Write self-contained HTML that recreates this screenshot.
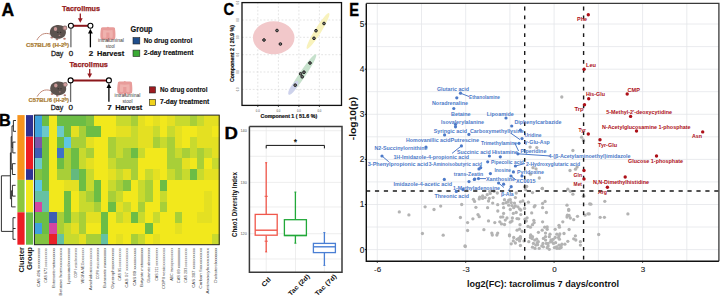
<!DOCTYPE html><html><head><meta charset="utf-8"><style>html,body{margin:0;padding:0;background:#fff;width:720px;height:298px;overflow:hidden}svg{display:block}text{font-family:"Liberation Sans",sans-serif}</style></head><body>
<svg width="720" height="298" viewBox="0 0 720 298">
<rect width="720" height="298" fill="#fff"/>
<text x="1.5" y="15.8" font-size="17.5" fill="#000" font-weight="bold" text-anchor="start" stroke="#000" stroke-width="0.35">A</text>
<g>
<text x="81" y="11.4" font-size="8" fill="#951b20" font-weight="bold" text-anchor="middle" textLength="38" lengthAdjust="spacingAndGlyphs" stroke="#951b20" stroke-width="0.25">Tacrolimus</text>
<path d="M80.3 13.5 V19.5" stroke="#951b20" stroke-width="1.3"/>
<path d="M77.9 18.3 L80.3 22.8 L82.7 18.3 Z" fill="#951b20"/>
<path d="M70.9 25.8 H90.4" stroke="#8b171b" stroke-width="2"/>
<path d="M70.9 28.4 V47.3" stroke="#6a6a6a" stroke-width="1.3"/>
<path d="M90.4 33 V47.3" stroke="#000" stroke-width="1.3"/>
<path d="M88 33.6 L90.4 28.8 L92.8 33.6 Z" fill="#000"/>
<circle cx="70.9" cy="25.8" r="2.5" fill="#fff" stroke="#000" stroke-width="1.1"/>
<circle cx="90.4" cy="25.8" r="2.5" fill="#fff" stroke="#000" stroke-width="1.1"/>
</g>
<g transform="translate(57.9,31.7)">
<path d="M-7.4 2.4 C-10 1.6 -13 1.4 -15.5 2.6 C-17.8 3.8 -19.8 6 -21 8.4" stroke="#c08878" stroke-width="1" fill="none"/>
<ellipse cx="-6.1" cy="5.9" rx="1.4" ry="1" fill="#b77f78"/><ellipse cx="-0.9" cy="7.5" rx="1.3" ry="1" fill="#b77f78"/><ellipse cx="6.6" cy="7.1" rx="1.3" ry="1" fill="#b77f78"/>
<path d="M-8 0.5 C-8 -4.5 -4 -6.8 0.5 -6.8 C5 -6.8 8 -4 8 0.5 C8 4.8 4.5 7 0 7 C-4.5 7 -8 4.8 -8 0.5 Z" fill="#5c524e"/>
<circle cx="7" cy="-3.7" r="2.4" fill="#8e7470"/>
<circle cx="7.1" cy="-3.6" r="1.5" fill="#d6a0a0"/>
<ellipse cx="-2.4" cy="-2.8" rx="1.7" ry="2" fill="#c99896"/>
<circle cx="0" cy="0.5" r="0.5" fill="#1a1414"/><circle cx="2.8" cy="0.5" r="0.5" fill="#1a1414"/>
<ellipse cx="1.6" cy="3.6" rx="0.9" ry="0.6" fill="#b88888"/>
</g>
<text x="47.5" y="47.2" font-size="6" fill="#a87a30" font-weight="bold" text-anchor="middle" textLength="43" lengthAdjust="spacingAndGlyphs" stroke="#a87a30" stroke-width="0.2">C57BL/6 (H-2ᵇ)</text>
<text x="57.1" y="55.8" font-size="8" fill="#222" font-weight="normal" text-anchor="middle" textLength="12.4" lengthAdjust="spacingAndGlyphs" stroke="#222" stroke-width="0.3">Day</text>
<text x="71" y="55.8" font-size="8" fill="#222" font-weight="normal" text-anchor="middle" stroke="#222" stroke-width="0.3">0</text>
<text x="91" y="55.8" font-size="8" fill="#111" font-weight="bold" text-anchor="middle" stroke="#111" stroke-width="0.2">2</text>
<text x="110.6" y="55.8" font-size="8" fill="#111" font-weight="bold" text-anchor="middle" textLength="27" lengthAdjust="spacingAndGlyphs" stroke="#111" stroke-width="0.2">Harvest</text>
<g transform="translate(107.9,33.2) scale(1.0)">
<path d="M-6.8 -5.2 C-5 -6.6 -2 -5.4 0 -6.4 C2 -5.4 5 -6.6 7 -5.2 C7.6 -1 7.8 3 7.2 5.6 C5.5 7 3 6.8 1.2 6 L0.6 8.5 L-0.6 8.5 L-1.2 6 C-3 6.8 -5.5 7 -7.2 5.6 C-7.8 3 -7.6 -1 -6.8 -5.2 Z" fill="#e89c9a"/>
<path d="M-4.6 -3.2 C-2 -2.6 2 -2.6 4.6 -3.2 C5 0 5 2.5 4.6 4.6 C3 4.8 2 4.6 1.6 4 L1.6 -0.6 L-1.6 -0.6 L-1.6 4 C-2 4.6 -3 4.8 -4.6 4.6 C-5 2.5 -5 0 -4.6 -3.2 Z" fill="#efb2ae"/>
</g>
<text x="111" y="42" font-size="4.6" fill="#3c3c3c" font-weight="normal" text-anchor="middle" textLength="26" lengthAdjust="spacingAndGlyphs" >intraluminal</text>
<text x="110.3" y="47.7" font-size="4.6" fill="#3c3c3c" font-weight="normal" text-anchor="middle" textLength="9" lengthAdjust="spacingAndGlyphs" >stool</text>
<text x="130.6" y="32.3" font-size="9" fill="#111" font-weight="bold" text-anchor="start" textLength="22" lengthAdjust="spacingAndGlyphs" stroke="#111" stroke-width="0.2">Group</text>
<rect x="133" y="37.6" width="6.8" height="6.4" fill="#1f4e8c" stroke="#222" stroke-width="0.6"/>
<text x="143.7" y="42.9" font-size="6.9" fill="#111" font-weight="bold" text-anchor="start" textLength="48.5" lengthAdjust="spacingAndGlyphs" stroke="#111" stroke-width="0.15">No drug control</text>
<rect x="133" y="50.1" width="6.8" height="6.4" fill="#3aaa35" stroke="#222" stroke-width="0.6"/>
<text x="143.8" y="55.4" font-size="6.9" fill="#111" font-weight="bold" text-anchor="start" textLength="49.7" lengthAdjust="spacingAndGlyphs" stroke="#111" stroke-width="0.15">2-day treatment</text>
<text x="88.7" y="67.1" font-size="8" fill="#951b20" font-weight="bold" text-anchor="middle" textLength="38.5" lengthAdjust="spacingAndGlyphs" stroke="#951b20" stroke-width="0.25">Tacrolimus</text>
<path d="M89.7 68.9 V75" stroke="#951b20" stroke-width="1.3"/>
<path d="M87.3 73.6 L89.7 78.1 L92.1 73.6 Z" fill="#951b20"/>
<path d="M70.6 80.4 H108.9" stroke="#8b171b" stroke-width="2"/>
<path d="M70.6 83 V102" stroke="#6a6a6a" stroke-width="1.3"/>
<path d="M108.9 87.5 V101.8" stroke="#000" stroke-width="1.3"/>
<path d="M106.5 88 L108.9 83.2 L111.3 88 Z" fill="#000"/>
<circle cx="70.6" cy="80.4" r="2.5" fill="#fff" stroke="#000" stroke-width="1.1"/>
<circle cx="108.9" cy="80.4" r="2.5" fill="#fff" stroke="#000" stroke-width="1.1"/>
<g transform="translate(58.2,88.2)">
<path d="M-7.4 2.4 C-10 1.6 -13 1.4 -15.5 2.6 C-17.8 3.8 -19.8 6 -21 8.4" stroke="#c08878" stroke-width="1" fill="none"/>
<ellipse cx="-6.1" cy="5.9" rx="1.4" ry="1" fill="#b77f78"/><ellipse cx="-0.9" cy="7.5" rx="1.3" ry="1" fill="#b77f78"/><ellipse cx="6.6" cy="7.1" rx="1.3" ry="1" fill="#b77f78"/>
<path d="M-8 0.5 C-8 -4.5 -4 -6.8 0.5 -6.8 C5 -6.8 8 -4 8 0.5 C8 4.8 4.5 7 0 7 C-4.5 7 -8 4.8 -8 0.5 Z" fill="#5c524e"/>
<circle cx="7" cy="-3.7" r="2.4" fill="#8e7470"/>
<circle cx="7.1" cy="-3.6" r="1.5" fill="#d6a0a0"/>
<ellipse cx="-2.4" cy="-2.8" rx="1.7" ry="2" fill="#c99896"/>
<circle cx="0" cy="0.5" r="0.5" fill="#1a1414"/><circle cx="2.8" cy="0.5" r="0.5" fill="#1a1414"/>
<ellipse cx="1.6" cy="3.6" rx="0.9" ry="0.6" fill="#b88888"/>
</g>
<text x="48.8" y="102" font-size="6" fill="#a87a30" font-weight="bold" text-anchor="middle" textLength="40.5" lengthAdjust="spacingAndGlyphs" stroke="#a87a30" stroke-width="0.2">C57BL/6 (H-2ᵇ)</text>
<text x="57" y="109.8" font-size="8" fill="#222" font-weight="normal" text-anchor="middle" textLength="12.5" lengthAdjust="spacingAndGlyphs" stroke="#222" stroke-width="0.3">Day</text>
<text x="70.7" y="109.8" font-size="8" fill="#222" font-weight="normal" text-anchor="middle" stroke="#222" stroke-width="0.3">0</text>
<text x="109.5" y="110" font-size="8" fill="#111" font-weight="bold" text-anchor="middle" stroke="#111" stroke-width="0.2">7</text>
<text x="128.7" y="110" font-size="8" fill="#111" font-weight="bold" text-anchor="middle" textLength="27" lengthAdjust="spacingAndGlyphs" stroke="#111" stroke-width="0.2">Harvest</text>
<g transform="translate(124.8,87.5) scale(1.0)">
<path d="M-6.8 -5.2 C-5 -6.6 -2 -5.4 0 -6.4 C2 -5.4 5 -6.6 7 -5.2 C7.6 -1 7.8 3 7.2 5.6 C5.5 7 3 6.8 1.2 6 L0.6 8.5 L-0.6 8.5 L-1.2 6 C-3 6.8 -5.5 7 -7.2 5.6 C-7.8 3 -7.6 -1 -6.8 -5.2 Z" fill="#e89c9a"/>
<path d="M-4.6 -3.2 C-2 -2.6 2 -2.6 4.6 -3.2 C5 0 5 2.5 4.6 4.6 C3 4.8 2 4.6 1.6 4 L1.6 -0.6 L-1.6 -0.6 L-1.6 4 C-2 4.6 -3 4.8 -4.6 4.6 C-5 2.5 -5 0 -4.6 -3.2 Z" fill="#efb2ae"/>
</g>
<text x="127.5" y="96.6" font-size="4.6" fill="#3c3c3c" font-weight="normal" text-anchor="middle" textLength="26" lengthAdjust="spacingAndGlyphs" >intraluminal</text>
<text x="127.5" y="102.5" font-size="4.6" fill="#3c3c3c" font-weight="normal" text-anchor="middle" textLength="10" lengthAdjust="spacingAndGlyphs" >stool</text>
<rect x="149.3" y="86.8" width="6.2" height="6.2" fill="#9e1b20" stroke="#222" stroke-width="0.6"/>
<text x="160" y="92.4" font-size="6.9" fill="#111" font-weight="bold" text-anchor="start" textLength="47.5" lengthAdjust="spacingAndGlyphs" stroke="#111" stroke-width="0.15">No drug control</text>
<rect x="149.3" y="99.3" width="6.2" height="6.2" fill="#f0d21c" stroke="#222" stroke-width="0.6"/>
<text x="160" y="104.1" font-size="6.9" fill="#111" font-weight="bold" text-anchor="start" textLength="49.2" lengthAdjust="spacingAndGlyphs" stroke="#111" stroke-width="0.15">7-day treatment</text>
<text x="-1.0" y="125.8" font-size="16.3" fill="#000" font-weight="bold" text-anchor="start" stroke="#000" stroke-width="0.35">B</text>
<rect x="34.40" y="115.10" width="7.69" height="11.10" fill="#3fa2dc" shape-rendering="crispEdges"/>
<rect x="41.79" y="115.10" width="7.69" height="11.10" fill="#6cbd45" shape-rendering="crispEdges"/>
<rect x="49.18" y="115.10" width="7.69" height="11.10" fill="#f2e81c" shape-rendering="crispEdges"/>
<rect x="56.58" y="115.10" width="7.69" height="11.10" fill="#6cbd45" shape-rendering="crispEdges"/>
<rect x="63.97" y="115.10" width="7.69" height="11.10" fill="#6cbd45" shape-rendering="crispEdges"/>
<rect x="71.36" y="115.10" width="7.69" height="11.10" fill="#6cbd45" shape-rendering="crispEdges"/>
<rect x="78.75" y="115.10" width="7.69" height="11.10" fill="#6cbd45" shape-rendering="crispEdges"/>
<rect x="86.14" y="115.10" width="7.69" height="11.10" fill="#82c341" shape-rendering="crispEdges"/>
<rect x="93.54" y="115.10" width="7.69" height="11.10" fill="#f2e81c" shape-rendering="crispEdges"/>
<rect x="100.93" y="115.10" width="7.69" height="11.10" fill="#f2e81c" shape-rendering="crispEdges"/>
<rect x="108.32" y="115.10" width="7.69" height="11.10" fill="#f2e81c" shape-rendering="crispEdges"/>
<rect x="115.71" y="115.10" width="7.69" height="11.10" fill="#c8da2e" shape-rendering="crispEdges"/>
<rect x="123.10" y="115.10" width="7.69" height="11.10" fill="#c8da2e" shape-rendering="crispEdges"/>
<rect x="130.50" y="115.10" width="7.69" height="11.10" fill="#a8cf38" shape-rendering="crispEdges"/>
<rect x="137.89" y="115.10" width="7.69" height="11.10" fill="#e4e022" shape-rendering="crispEdges"/>
<rect x="145.28" y="115.10" width="7.69" height="11.10" fill="#f2e81c" shape-rendering="crispEdges"/>
<rect x="152.67" y="115.10" width="7.69" height="11.10" fill="#e4e022" shape-rendering="crispEdges"/>
<rect x="160.06" y="115.10" width="7.69" height="11.10" fill="#f2e81c" shape-rendering="crispEdges"/>
<rect x="167.46" y="115.10" width="7.69" height="11.10" fill="#e4e022" shape-rendering="crispEdges"/>
<rect x="174.85" y="115.10" width="7.69" height="11.10" fill="#c8da2e" shape-rendering="crispEdges"/>
<rect x="182.24" y="115.10" width="7.69" height="11.10" fill="#c8da2e" shape-rendering="crispEdges"/>
<rect x="189.63" y="115.10" width="7.69" height="11.10" fill="#a8cf38" shape-rendering="crispEdges"/>
<rect x="197.02" y="115.10" width="7.69" height="11.10" fill="#c8da2e" shape-rendering="crispEdges"/>
<rect x="204.42" y="115.10" width="7.69" height="11.10" fill="#e4e022" shape-rendering="crispEdges"/>
<rect x="211.81" y="115.10" width="7.69" height="11.10" fill="#e4e022" shape-rendering="crispEdges"/>
<rect x="34.40" y="125.90" width="7.69" height="11.10" fill="#3fa2dc" shape-rendering="crispEdges"/>
<rect x="41.79" y="125.90" width="7.69" height="11.10" fill="#6cc9c9" shape-rendering="crispEdges"/>
<rect x="49.18" y="125.90" width="7.69" height="11.10" fill="#f2e81c" shape-rendering="crispEdges"/>
<rect x="56.58" y="125.90" width="7.69" height="11.10" fill="#6cc9c9" shape-rendering="crispEdges"/>
<rect x="63.97" y="125.90" width="7.69" height="11.10" fill="#6cbd45" shape-rendering="crispEdges"/>
<rect x="71.36" y="125.90" width="7.69" height="11.10" fill="#e4e022" shape-rendering="crispEdges"/>
<rect x="78.75" y="125.90" width="7.69" height="11.10" fill="#a8cf38" shape-rendering="crispEdges"/>
<rect x="86.14" y="125.90" width="7.69" height="11.10" fill="#6cbd45" shape-rendering="crispEdges"/>
<rect x="93.54" y="125.90" width="7.69" height="11.10" fill="#6cbd45" shape-rendering="crispEdges"/>
<rect x="100.93" y="125.90" width="7.69" height="11.10" fill="#f2e81c" shape-rendering="crispEdges"/>
<rect x="108.32" y="125.90" width="7.69" height="11.10" fill="#f2e81c" shape-rendering="crispEdges"/>
<rect x="115.71" y="125.90" width="7.69" height="11.10" fill="#e4e022" shape-rendering="crispEdges"/>
<rect x="123.10" y="125.90" width="7.69" height="11.10" fill="#e4e022" shape-rendering="crispEdges"/>
<rect x="130.50" y="125.90" width="7.69" height="11.10" fill="#c8da2e" shape-rendering="crispEdges"/>
<rect x="137.89" y="125.90" width="7.69" height="11.10" fill="#e4e022" shape-rendering="crispEdges"/>
<rect x="145.28" y="125.90" width="7.69" height="11.10" fill="#e4e022" shape-rendering="crispEdges"/>
<rect x="152.67" y="125.90" width="7.69" height="11.10" fill="#c8da2e" shape-rendering="crispEdges"/>
<rect x="160.06" y="125.90" width="7.69" height="11.10" fill="#f2e81c" shape-rendering="crispEdges"/>
<rect x="167.46" y="125.90" width="7.69" height="11.10" fill="#c8da2e" shape-rendering="crispEdges"/>
<rect x="174.85" y="125.90" width="7.69" height="11.10" fill="#e4e022" shape-rendering="crispEdges"/>
<rect x="182.24" y="125.90" width="7.69" height="11.10" fill="#f2e81c" shape-rendering="crispEdges"/>
<rect x="189.63" y="125.90" width="7.69" height="11.10" fill="#f2e81c" shape-rendering="crispEdges"/>
<rect x="197.02" y="125.90" width="7.69" height="11.10" fill="#e4e022" shape-rendering="crispEdges"/>
<rect x="204.42" y="125.90" width="7.69" height="11.10" fill="#e4e022" shape-rendering="crispEdges"/>
<rect x="211.81" y="125.90" width="7.69" height="11.10" fill="#f2e81c" shape-rendering="crispEdges"/>
<rect x="34.40" y="136.70" width="7.69" height="11.10" fill="#7e55a6" shape-rendering="crispEdges"/>
<rect x="41.79" y="136.70" width="7.69" height="11.10" fill="#6cbd45" shape-rendering="crispEdges"/>
<rect x="49.18" y="136.70" width="7.69" height="11.10" fill="#f2e81c" shape-rendering="crispEdges"/>
<rect x="56.58" y="136.70" width="7.69" height="11.10" fill="#6cbd45" shape-rendering="crispEdges"/>
<rect x="63.97" y="136.70" width="7.69" height="11.10" fill="#5ec6e2" shape-rendering="crispEdges"/>
<rect x="71.36" y="136.70" width="7.69" height="11.10" fill="#a8cf38" shape-rendering="crispEdges"/>
<rect x="78.75" y="136.70" width="7.69" height="11.10" fill="#a8cf38" shape-rendering="crispEdges"/>
<rect x="86.14" y="136.70" width="7.69" height="11.10" fill="#e4e022" shape-rendering="crispEdges"/>
<rect x="93.54" y="136.70" width="7.69" height="11.10" fill="#f2e81c" shape-rendering="crispEdges"/>
<rect x="100.93" y="136.70" width="7.69" height="11.10" fill="#f2e81c" shape-rendering="crispEdges"/>
<rect x="108.32" y="136.70" width="7.69" height="11.10" fill="#a8cf38" shape-rendering="crispEdges"/>
<rect x="115.71" y="136.70" width="7.69" height="11.10" fill="#c8da2e" shape-rendering="crispEdges"/>
<rect x="123.10" y="136.70" width="7.69" height="11.10" fill="#c8da2e" shape-rendering="crispEdges"/>
<rect x="130.50" y="136.70" width="7.69" height="11.10" fill="#c8da2e" shape-rendering="crispEdges"/>
<rect x="137.89" y="136.70" width="7.69" height="11.10" fill="#e4e022" shape-rendering="crispEdges"/>
<rect x="145.28" y="136.70" width="7.69" height="11.10" fill="#e4e022" shape-rendering="crispEdges"/>
<rect x="152.67" y="136.70" width="7.69" height="11.10" fill="#a8cf38" shape-rendering="crispEdges"/>
<rect x="160.06" y="136.70" width="7.69" height="11.10" fill="#c8da2e" shape-rendering="crispEdges"/>
<rect x="167.46" y="136.70" width="7.69" height="11.10" fill="#a8cf38" shape-rendering="crispEdges"/>
<rect x="174.85" y="136.70" width="7.69" height="11.10" fill="#e4e022" shape-rendering="crispEdges"/>
<rect x="182.24" y="136.70" width="7.69" height="11.10" fill="#f2e81c" shape-rendering="crispEdges"/>
<rect x="189.63" y="136.70" width="7.69" height="11.10" fill="#c8da2e" shape-rendering="crispEdges"/>
<rect x="197.02" y="136.70" width="7.69" height="11.10" fill="#e4e022" shape-rendering="crispEdges"/>
<rect x="204.42" y="136.70" width="7.69" height="11.10" fill="#e4e022" shape-rendering="crispEdges"/>
<rect x="211.81" y="136.70" width="7.69" height="11.10" fill="#e4e022" shape-rendering="crispEdges"/>
<rect x="34.40" y="147.50" width="7.69" height="11.10" fill="#3e5eb4" shape-rendering="crispEdges"/>
<rect x="41.79" y="147.50" width="7.69" height="11.10" fill="#6cbd45" shape-rendering="crispEdges"/>
<rect x="49.18" y="147.50" width="7.69" height="11.10" fill="#f2e81c" shape-rendering="crispEdges"/>
<rect x="56.58" y="147.50" width="7.69" height="11.10" fill="#3d70c8" shape-rendering="crispEdges"/>
<rect x="63.97" y="147.50" width="7.69" height="11.10" fill="#a8cf38" shape-rendering="crispEdges"/>
<rect x="71.36" y="147.50" width="7.69" height="11.10" fill="#6cbd45" shape-rendering="crispEdges"/>
<rect x="78.75" y="147.50" width="7.69" height="11.10" fill="#c8da2e" shape-rendering="crispEdges"/>
<rect x="86.14" y="147.50" width="7.69" height="11.10" fill="#a8cf38" shape-rendering="crispEdges"/>
<rect x="93.54" y="147.50" width="7.69" height="11.10" fill="#f2e81c" shape-rendering="crispEdges"/>
<rect x="100.93" y="147.50" width="7.69" height="11.10" fill="#f2e81c" shape-rendering="crispEdges"/>
<rect x="108.32" y="147.50" width="7.69" height="11.10" fill="#a8cf38" shape-rendering="crispEdges"/>
<rect x="115.71" y="147.50" width="7.69" height="11.10" fill="#c8da2e" shape-rendering="crispEdges"/>
<rect x="123.10" y="147.50" width="7.69" height="11.10" fill="#a8cf38" shape-rendering="crispEdges"/>
<rect x="130.50" y="147.50" width="7.69" height="11.10" fill="#6cbd45" shape-rendering="crispEdges"/>
<rect x="137.89" y="147.50" width="7.69" height="11.10" fill="#c8da2e" shape-rendering="crispEdges"/>
<rect x="145.28" y="147.50" width="7.69" height="11.10" fill="#f2e81c" shape-rendering="crispEdges"/>
<rect x="152.67" y="147.50" width="7.69" height="11.10" fill="#f2e81c" shape-rendering="crispEdges"/>
<rect x="160.06" y="147.50" width="7.69" height="11.10" fill="#f2e81c" shape-rendering="crispEdges"/>
<rect x="167.46" y="147.50" width="7.69" height="11.10" fill="#a8cf38" shape-rendering="crispEdges"/>
<rect x="174.85" y="147.50" width="7.69" height="11.10" fill="#c8da2e" shape-rendering="crispEdges"/>
<rect x="182.24" y="147.50" width="7.69" height="11.10" fill="#a8cf38" shape-rendering="crispEdges"/>
<rect x="189.63" y="147.50" width="7.69" height="11.10" fill="#c8da2e" shape-rendering="crispEdges"/>
<rect x="197.02" y="147.50" width="7.69" height="11.10" fill="#a8cf38" shape-rendering="crispEdges"/>
<rect x="204.42" y="147.50" width="7.69" height="11.10" fill="#c8da2e" shape-rendering="crispEdges"/>
<rect x="211.81" y="147.50" width="7.69" height="11.10" fill="#e4e022" shape-rendering="crispEdges"/>
<rect x="34.40" y="158.30" width="7.69" height="11.10" fill="#6cc9c9" shape-rendering="crispEdges"/>
<rect x="41.79" y="158.30" width="7.69" height="11.10" fill="#6cbd45" shape-rendering="crispEdges"/>
<rect x="49.18" y="158.30" width="7.69" height="11.10" fill="#f2e81c" shape-rendering="crispEdges"/>
<rect x="56.58" y="158.30" width="7.69" height="11.10" fill="#6cbd45" shape-rendering="crispEdges"/>
<rect x="63.97" y="158.30" width="7.69" height="11.10" fill="#a8cf38" shape-rendering="crispEdges"/>
<rect x="71.36" y="158.30" width="7.69" height="11.10" fill="#6cbd45" shape-rendering="crispEdges"/>
<rect x="78.75" y="158.30" width="7.69" height="11.10" fill="#c8da2e" shape-rendering="crispEdges"/>
<rect x="86.14" y="158.30" width="7.69" height="11.10" fill="#e4e022" shape-rendering="crispEdges"/>
<rect x="93.54" y="158.30" width="7.69" height="11.10" fill="#f2e81c" shape-rendering="crispEdges"/>
<rect x="100.93" y="158.30" width="7.69" height="11.10" fill="#f2e81c" shape-rendering="crispEdges"/>
<rect x="108.32" y="158.30" width="7.69" height="11.10" fill="#c8da2e" shape-rendering="crispEdges"/>
<rect x="115.71" y="158.30" width="7.69" height="11.10" fill="#a8cf38" shape-rendering="crispEdges"/>
<rect x="123.10" y="158.30" width="7.69" height="11.10" fill="#a8cf38" shape-rendering="crispEdges"/>
<rect x="130.50" y="158.30" width="7.69" height="11.10" fill="#a8cf38" shape-rendering="crispEdges"/>
<rect x="137.89" y="158.30" width="7.69" height="11.10" fill="#f2e81c" shape-rendering="crispEdges"/>
<rect x="145.28" y="158.30" width="7.69" height="11.10" fill="#f2e81c" shape-rendering="crispEdges"/>
<rect x="152.67" y="158.30" width="7.69" height="11.10" fill="#f2e81c" shape-rendering="crispEdges"/>
<rect x="160.06" y="158.30" width="7.69" height="11.10" fill="#f2e81c" shape-rendering="crispEdges"/>
<rect x="167.46" y="158.30" width="7.69" height="11.10" fill="#a8cf38" shape-rendering="crispEdges"/>
<rect x="174.85" y="158.30" width="7.69" height="11.10" fill="#a8cf38" shape-rendering="crispEdges"/>
<rect x="182.24" y="158.30" width="7.69" height="11.10" fill="#e4e022" shape-rendering="crispEdges"/>
<rect x="189.63" y="158.30" width="7.69" height="11.10" fill="#f2e81c" shape-rendering="crispEdges"/>
<rect x="197.02" y="158.30" width="7.69" height="11.10" fill="#a8cf38" shape-rendering="crispEdges"/>
<rect x="204.42" y="158.30" width="7.69" height="11.10" fill="#f2e81c" shape-rendering="crispEdges"/>
<rect x="211.81" y="158.30" width="7.69" height="11.10" fill="#c8da2e" shape-rendering="crispEdges"/>
<rect x="34.40" y="169.10" width="7.69" height="11.10" fill="#82c341" shape-rendering="crispEdges"/>
<rect x="41.79" y="169.10" width="7.69" height="11.10" fill="#6cbd45" shape-rendering="crispEdges"/>
<rect x="49.18" y="169.10" width="7.69" height="11.10" fill="#f2e81c" shape-rendering="crispEdges"/>
<rect x="56.58" y="169.10" width="7.69" height="11.10" fill="#a8cf38" shape-rendering="crispEdges"/>
<rect x="63.97" y="169.10" width="7.69" height="11.10" fill="#a8cf38" shape-rendering="crispEdges"/>
<rect x="71.36" y="169.10" width="7.69" height="11.10" fill="#64b97e" shape-rendering="crispEdges"/>
<rect x="78.75" y="169.10" width="7.69" height="11.10" fill="#6cbd45" shape-rendering="crispEdges"/>
<rect x="86.14" y="169.10" width="7.69" height="11.10" fill="#c8da2e" shape-rendering="crispEdges"/>
<rect x="93.54" y="169.10" width="7.69" height="11.10" fill="#f2e81c" shape-rendering="crispEdges"/>
<rect x="100.93" y="169.10" width="7.69" height="11.10" fill="#f2e81c" shape-rendering="crispEdges"/>
<rect x="108.32" y="169.10" width="7.69" height="11.10" fill="#e4e022" shape-rendering="crispEdges"/>
<rect x="115.71" y="169.10" width="7.69" height="11.10" fill="#c8da2e" shape-rendering="crispEdges"/>
<rect x="123.10" y="169.10" width="7.69" height="11.10" fill="#e4e022" shape-rendering="crispEdges"/>
<rect x="130.50" y="169.10" width="7.69" height="11.10" fill="#a8cf38" shape-rendering="crispEdges"/>
<rect x="137.89" y="169.10" width="7.69" height="11.10" fill="#f2e81c" shape-rendering="crispEdges"/>
<rect x="145.28" y="169.10" width="7.69" height="11.10" fill="#c8da2e" shape-rendering="crispEdges"/>
<rect x="152.67" y="169.10" width="7.69" height="11.10" fill="#e4e022" shape-rendering="crispEdges"/>
<rect x="160.06" y="169.10" width="7.69" height="11.10" fill="#f2e81c" shape-rendering="crispEdges"/>
<rect x="167.46" y="169.10" width="7.69" height="11.10" fill="#c8da2e" shape-rendering="crispEdges"/>
<rect x="174.85" y="169.10" width="7.69" height="11.10" fill="#a8cf38" shape-rendering="crispEdges"/>
<rect x="182.24" y="169.10" width="7.69" height="11.10" fill="#c8da2e" shape-rendering="crispEdges"/>
<rect x="189.63" y="169.10" width="7.69" height="11.10" fill="#6cbd45" shape-rendering="crispEdges"/>
<rect x="197.02" y="169.10" width="7.69" height="11.10" fill="#c8da2e" shape-rendering="crispEdges"/>
<rect x="204.42" y="169.10" width="7.69" height="11.10" fill="#e4e022" shape-rendering="crispEdges"/>
<rect x="211.81" y="169.10" width="7.69" height="11.10" fill="#e4e022" shape-rendering="crispEdges"/>
<rect x="34.40" y="179.90" width="7.69" height="11.10" fill="#5ec6e2" shape-rendering="crispEdges"/>
<rect x="41.79" y="179.90" width="7.69" height="11.10" fill="#6cbd45" shape-rendering="crispEdges"/>
<rect x="49.18" y="179.90" width="7.69" height="11.10" fill="#f2e81c" shape-rendering="crispEdges"/>
<rect x="56.58" y="179.90" width="7.69" height="11.10" fill="#f2e81c" shape-rendering="crispEdges"/>
<rect x="63.97" y="179.90" width="7.69" height="11.10" fill="#e4e022" shape-rendering="crispEdges"/>
<rect x="71.36" y="179.90" width="7.69" height="11.10" fill="#e4e022" shape-rendering="crispEdges"/>
<rect x="78.75" y="179.90" width="7.69" height="11.10" fill="#6cbd45" shape-rendering="crispEdges"/>
<rect x="86.14" y="179.90" width="7.69" height="11.10" fill="#c8da2e" shape-rendering="crispEdges"/>
<rect x="93.54" y="179.90" width="7.69" height="11.10" fill="#6cbd45" shape-rendering="crispEdges"/>
<rect x="100.93" y="179.90" width="7.69" height="11.10" fill="#f2e81c" shape-rendering="crispEdges"/>
<rect x="108.32" y="179.90" width="7.69" height="11.10" fill="#c8da2e" shape-rendering="crispEdges"/>
<rect x="115.71" y="179.90" width="7.69" height="11.10" fill="#a8cf38" shape-rendering="crispEdges"/>
<rect x="123.10" y="179.90" width="7.69" height="11.10" fill="#82c341" shape-rendering="crispEdges"/>
<rect x="130.50" y="179.90" width="7.69" height="11.10" fill="#f2e81c" shape-rendering="crispEdges"/>
<rect x="137.89" y="179.90" width="7.69" height="11.10" fill="#c8da2e" shape-rendering="crispEdges"/>
<rect x="145.28" y="179.90" width="7.69" height="11.10" fill="#a8cf38" shape-rendering="crispEdges"/>
<rect x="152.67" y="179.90" width="7.69" height="11.10" fill="#f2e81c" shape-rendering="crispEdges"/>
<rect x="160.06" y="179.90" width="7.69" height="11.10" fill="#6cbd45" shape-rendering="crispEdges"/>
<rect x="167.46" y="179.90" width="7.69" height="11.10" fill="#f2e81c" shape-rendering="crispEdges"/>
<rect x="174.85" y="179.90" width="7.69" height="11.10" fill="#f2e81c" shape-rendering="crispEdges"/>
<rect x="182.24" y="179.90" width="7.69" height="11.10" fill="#f2e81c" shape-rendering="crispEdges"/>
<rect x="189.63" y="179.90" width="7.69" height="11.10" fill="#f2e81c" shape-rendering="crispEdges"/>
<rect x="197.02" y="179.90" width="7.69" height="11.10" fill="#f2e81c" shape-rendering="crispEdges"/>
<rect x="204.42" y="179.90" width="7.69" height="11.10" fill="#f2e81c" shape-rendering="crispEdges"/>
<rect x="211.81" y="179.90" width="7.69" height="11.10" fill="#f2e81c" shape-rendering="crispEdges"/>
<rect x="34.40" y="190.70" width="7.69" height="11.10" fill="#66c1a2" shape-rendering="crispEdges"/>
<rect x="41.79" y="190.70" width="7.69" height="11.10" fill="#66c1a2" shape-rendering="crispEdges"/>
<rect x="49.18" y="190.70" width="7.69" height="11.10" fill="#f2e81c" shape-rendering="crispEdges"/>
<rect x="56.58" y="190.70" width="7.69" height="11.10" fill="#f2e81c" shape-rendering="crispEdges"/>
<rect x="63.97" y="190.70" width="7.69" height="11.10" fill="#6cbd45" shape-rendering="crispEdges"/>
<rect x="71.36" y="190.70" width="7.69" height="11.10" fill="#f2e81c" shape-rendering="crispEdges"/>
<rect x="78.75" y="190.70" width="7.69" height="11.10" fill="#c8da2e" shape-rendering="crispEdges"/>
<rect x="86.14" y="190.70" width="7.69" height="11.10" fill="#a8cf38" shape-rendering="crispEdges"/>
<rect x="93.54" y="190.70" width="7.69" height="11.10" fill="#6cbd45" shape-rendering="crispEdges"/>
<rect x="100.93" y="190.70" width="7.69" height="11.10" fill="#f2e81c" shape-rendering="crispEdges"/>
<rect x="108.32" y="190.70" width="7.69" height="11.10" fill="#a8cf38" shape-rendering="crispEdges"/>
<rect x="115.71" y="190.70" width="7.69" height="11.10" fill="#c8da2e" shape-rendering="crispEdges"/>
<rect x="123.10" y="190.70" width="7.69" height="11.10" fill="#f2e81c" shape-rendering="crispEdges"/>
<rect x="130.50" y="190.70" width="7.69" height="11.10" fill="#f2e81c" shape-rendering="crispEdges"/>
<rect x="137.89" y="190.70" width="7.69" height="11.10" fill="#c8da2e" shape-rendering="crispEdges"/>
<rect x="145.28" y="190.70" width="7.69" height="11.10" fill="#a8cf38" shape-rendering="crispEdges"/>
<rect x="152.67" y="190.70" width="7.69" height="11.10" fill="#f2e81c" shape-rendering="crispEdges"/>
<rect x="160.06" y="190.70" width="7.69" height="11.10" fill="#c8da2e" shape-rendering="crispEdges"/>
<rect x="167.46" y="190.70" width="7.69" height="11.10" fill="#f2e81c" shape-rendering="crispEdges"/>
<rect x="174.85" y="190.70" width="7.69" height="11.10" fill="#f2e81c" shape-rendering="crispEdges"/>
<rect x="182.24" y="190.70" width="7.69" height="11.10" fill="#f2e81c" shape-rendering="crispEdges"/>
<rect x="189.63" y="190.70" width="7.69" height="11.10" fill="#f2e81c" shape-rendering="crispEdges"/>
<rect x="197.02" y="190.70" width="7.69" height="11.10" fill="#f2e81c" shape-rendering="crispEdges"/>
<rect x="204.42" y="190.70" width="7.69" height="11.10" fill="#e4e022" shape-rendering="crispEdges"/>
<rect x="211.81" y="190.70" width="7.69" height="11.10" fill="#f2e81c" shape-rendering="crispEdges"/>
<rect x="34.40" y="201.50" width="7.69" height="11.10" fill="#d546a2" shape-rendering="crispEdges"/>
<rect x="41.79" y="201.50" width="7.69" height="11.10" fill="#66c1a2" shape-rendering="crispEdges"/>
<rect x="49.18" y="201.50" width="7.69" height="11.10" fill="#f2e81c" shape-rendering="crispEdges"/>
<rect x="56.58" y="201.50" width="7.69" height="11.10" fill="#f2e81c" shape-rendering="crispEdges"/>
<rect x="63.97" y="201.50" width="7.69" height="11.10" fill="#6cbd45" shape-rendering="crispEdges"/>
<rect x="71.36" y="201.50" width="7.69" height="11.10" fill="#f2e81c" shape-rendering="crispEdges"/>
<rect x="78.75" y="201.50" width="7.69" height="11.10" fill="#c8da2e" shape-rendering="crispEdges"/>
<rect x="86.14" y="201.50" width="7.69" height="11.10" fill="#c8da2e" shape-rendering="crispEdges"/>
<rect x="93.54" y="201.50" width="7.69" height="11.10" fill="#a8cf38" shape-rendering="crispEdges"/>
<rect x="100.93" y="201.50" width="7.69" height="11.10" fill="#f2e81c" shape-rendering="crispEdges"/>
<rect x="108.32" y="201.50" width="7.69" height="11.10" fill="#6cbd45" shape-rendering="crispEdges"/>
<rect x="115.71" y="201.50" width="7.69" height="11.10" fill="#e4e022" shape-rendering="crispEdges"/>
<rect x="123.10" y="201.50" width="7.69" height="11.10" fill="#c8da2e" shape-rendering="crispEdges"/>
<rect x="130.50" y="201.50" width="7.69" height="11.10" fill="#f2e81c" shape-rendering="crispEdges"/>
<rect x="137.89" y="201.50" width="7.69" height="11.10" fill="#a8cf38" shape-rendering="crispEdges"/>
<rect x="145.28" y="201.50" width="7.69" height="11.10" fill="#f2e81c" shape-rendering="crispEdges"/>
<rect x="152.67" y="201.50" width="7.69" height="11.10" fill="#f2e81c" shape-rendering="crispEdges"/>
<rect x="160.06" y="201.50" width="7.69" height="11.10" fill="#a8cf38" shape-rendering="crispEdges"/>
<rect x="167.46" y="201.50" width="7.69" height="11.10" fill="#f2e81c" shape-rendering="crispEdges"/>
<rect x="174.85" y="201.50" width="7.69" height="11.10" fill="#f2e81c" shape-rendering="crispEdges"/>
<rect x="182.24" y="201.50" width="7.69" height="11.10" fill="#f2e81c" shape-rendering="crispEdges"/>
<rect x="189.63" y="201.50" width="7.69" height="11.10" fill="#f2e81c" shape-rendering="crispEdges"/>
<rect x="197.02" y="201.50" width="7.69" height="11.10" fill="#f2e81c" shape-rendering="crispEdges"/>
<rect x="204.42" y="201.50" width="7.69" height="11.10" fill="#e4e022" shape-rendering="crispEdges"/>
<rect x="211.81" y="201.50" width="7.69" height="11.10" fill="#f2e81c" shape-rendering="crispEdges"/>
<rect x="34.40" y="212.30" width="7.69" height="11.10" fill="#6cbd45" shape-rendering="crispEdges"/>
<rect x="41.79" y="212.30" width="7.69" height="11.10" fill="#6cbd45" shape-rendering="crispEdges"/>
<rect x="49.18" y="212.30" width="7.69" height="11.10" fill="#3e5eb4" shape-rendering="crispEdges"/>
<rect x="56.58" y="212.30" width="7.69" height="11.10" fill="#a8cf38" shape-rendering="crispEdges"/>
<rect x="63.97" y="212.30" width="7.69" height="11.10" fill="#6cbd45" shape-rendering="crispEdges"/>
<rect x="71.36" y="212.30" width="7.69" height="11.10" fill="#c8da2e" shape-rendering="crispEdges"/>
<rect x="78.75" y="212.30" width="7.69" height="11.10" fill="#a8cf38" shape-rendering="crispEdges"/>
<rect x="86.14" y="212.30" width="7.69" height="11.10" fill="#e4e022" shape-rendering="crispEdges"/>
<rect x="93.54" y="212.30" width="7.69" height="11.10" fill="#e4e022" shape-rendering="crispEdges"/>
<rect x="100.93" y="212.30" width="7.69" height="11.10" fill="#6cbd45" shape-rendering="crispEdges"/>
<rect x="108.32" y="212.30" width="7.69" height="11.10" fill="#f2e81c" shape-rendering="crispEdges"/>
<rect x="115.71" y="212.30" width="7.69" height="11.10" fill="#c8da2e" shape-rendering="crispEdges"/>
<rect x="123.10" y="212.30" width="7.69" height="11.10" fill="#e4e022" shape-rendering="crispEdges"/>
<rect x="130.50" y="212.30" width="7.69" height="11.10" fill="#6cbd45" shape-rendering="crispEdges"/>
<rect x="137.89" y="212.30" width="7.69" height="11.10" fill="#c8da2e" shape-rendering="crispEdges"/>
<rect x="145.28" y="212.30" width="7.69" height="11.10" fill="#f2e81c" shape-rendering="crispEdges"/>
<rect x="152.67" y="212.30" width="7.69" height="11.10" fill="#c8da2e" shape-rendering="crispEdges"/>
<rect x="160.06" y="212.30" width="7.69" height="11.10" fill="#f2e81c" shape-rendering="crispEdges"/>
<rect x="167.46" y="212.30" width="7.69" height="11.10" fill="#f2e81c" shape-rendering="crispEdges"/>
<rect x="174.85" y="212.30" width="7.69" height="11.10" fill="#a8cf38" shape-rendering="crispEdges"/>
<rect x="182.24" y="212.30" width="7.69" height="11.10" fill="#f2e81c" shape-rendering="crispEdges"/>
<rect x="189.63" y="212.30" width="7.69" height="11.10" fill="#f2e81c" shape-rendering="crispEdges"/>
<rect x="197.02" y="212.30" width="7.69" height="11.10" fill="#e4e022" shape-rendering="crispEdges"/>
<rect x="204.42" y="212.30" width="7.69" height="11.10" fill="#e4e022" shape-rendering="crispEdges"/>
<rect x="211.81" y="212.30" width="7.69" height="11.10" fill="#f2e81c" shape-rendering="crispEdges"/>
<rect x="34.40" y="223.10" width="7.69" height="11.10" fill="#3fa2dc" shape-rendering="crispEdges"/>
<rect x="41.79" y="223.10" width="7.69" height="11.10" fill="#6cbd45" shape-rendering="crispEdges"/>
<rect x="49.18" y="223.10" width="7.69" height="11.10" fill="#d546a2" shape-rendering="crispEdges"/>
<rect x="56.58" y="223.10" width="7.69" height="11.10" fill="#a8cf38" shape-rendering="crispEdges"/>
<rect x="63.97" y="223.10" width="7.69" height="11.10" fill="#c8da2e" shape-rendering="crispEdges"/>
<rect x="71.36" y="223.10" width="7.69" height="11.10" fill="#e4e022" shape-rendering="crispEdges"/>
<rect x="78.75" y="223.10" width="7.69" height="11.10" fill="#a8cf38" shape-rendering="crispEdges"/>
<rect x="86.14" y="223.10" width="7.69" height="11.10" fill="#f2e81c" shape-rendering="crispEdges"/>
<rect x="93.54" y="223.10" width="7.69" height="11.10" fill="#f2e81c" shape-rendering="crispEdges"/>
<rect x="100.93" y="223.10" width="7.69" height="11.10" fill="#6cbd45" shape-rendering="crispEdges"/>
<rect x="108.32" y="223.10" width="7.69" height="11.10" fill="#f2e81c" shape-rendering="crispEdges"/>
<rect x="115.71" y="223.10" width="7.69" height="11.10" fill="#f2e81c" shape-rendering="crispEdges"/>
<rect x="123.10" y="223.10" width="7.69" height="11.10" fill="#f2e81c" shape-rendering="crispEdges"/>
<rect x="130.50" y="223.10" width="7.69" height="11.10" fill="#f2e81c" shape-rendering="crispEdges"/>
<rect x="137.89" y="223.10" width="7.69" height="11.10" fill="#f2e81c" shape-rendering="crispEdges"/>
<rect x="145.28" y="223.10" width="7.69" height="11.10" fill="#6cbd45" shape-rendering="crispEdges"/>
<rect x="152.67" y="223.10" width="7.69" height="11.10" fill="#f2e81c" shape-rendering="crispEdges"/>
<rect x="160.06" y="223.10" width="7.69" height="11.10" fill="#f2e81c" shape-rendering="crispEdges"/>
<rect x="167.46" y="223.10" width="7.69" height="11.10" fill="#f2e81c" shape-rendering="crispEdges"/>
<rect x="174.85" y="223.10" width="7.69" height="11.10" fill="#e4e022" shape-rendering="crispEdges"/>
<rect x="182.24" y="223.10" width="7.69" height="11.10" fill="#f2e81c" shape-rendering="crispEdges"/>
<rect x="189.63" y="223.10" width="7.69" height="11.10" fill="#f2e81c" shape-rendering="crispEdges"/>
<rect x="197.02" y="223.10" width="7.69" height="11.10" fill="#f2e81c" shape-rendering="crispEdges"/>
<rect x="204.42" y="223.10" width="7.69" height="11.10" fill="#f2e81c" shape-rendering="crispEdges"/>
<rect x="211.81" y="223.10" width="7.69" height="11.10" fill="#f2e81c" shape-rendering="crispEdges"/>
<rect x="34.40" y="233.90" width="7.69" height="11.10" fill="#82c341" shape-rendering="crispEdges"/>
<rect x="41.79" y="233.90" width="7.69" height="11.10" fill="#82c341" shape-rendering="crispEdges"/>
<rect x="49.18" y="233.90" width="7.69" height="11.10" fill="#e82127" shape-rendering="crispEdges"/>
<rect x="56.58" y="233.90" width="7.69" height="11.10" fill="#66c1a2" shape-rendering="crispEdges"/>
<rect x="63.97" y="233.90" width="7.69" height="11.10" fill="#c8da2e" shape-rendering="crispEdges"/>
<rect x="71.36" y="233.90" width="7.69" height="11.10" fill="#c8da2e" shape-rendering="crispEdges"/>
<rect x="78.75" y="233.90" width="7.69" height="11.10" fill="#e4e022" shape-rendering="crispEdges"/>
<rect x="86.14" y="233.90" width="7.69" height="11.10" fill="#a8cf38" shape-rendering="crispEdges"/>
<rect x="93.54" y="233.90" width="7.69" height="11.10" fill="#a8cf38" shape-rendering="crispEdges"/>
<rect x="100.93" y="233.90" width="7.69" height="11.10" fill="#66c1a2" shape-rendering="crispEdges"/>
<rect x="108.32" y="233.90" width="7.69" height="11.10" fill="#f2e81c" shape-rendering="crispEdges"/>
<rect x="115.71" y="233.90" width="7.69" height="11.10" fill="#e4e022" shape-rendering="crispEdges"/>
<rect x="123.10" y="233.90" width="7.69" height="11.10" fill="#f2e81c" shape-rendering="crispEdges"/>
<rect x="130.50" y="233.90" width="7.69" height="11.10" fill="#a8cf38" shape-rendering="crispEdges"/>
<rect x="137.89" y="233.90" width="7.69" height="11.10" fill="#c8da2e" shape-rendering="crispEdges"/>
<rect x="145.28" y="233.90" width="7.69" height="11.10" fill="#f2e81c" shape-rendering="crispEdges"/>
<rect x="152.67" y="233.90" width="7.69" height="11.10" fill="#e4e022" shape-rendering="crispEdges"/>
<rect x="160.06" y="233.90" width="7.69" height="11.10" fill="#f2e81c" shape-rendering="crispEdges"/>
<rect x="167.46" y="233.90" width="7.69" height="11.10" fill="#f2e81c" shape-rendering="crispEdges"/>
<rect x="174.85" y="233.90" width="7.69" height="11.10" fill="#f2e81c" shape-rendering="crispEdges"/>
<rect x="182.24" y="233.90" width="7.69" height="11.10" fill="#f2e81c" shape-rendering="crispEdges"/>
<rect x="189.63" y="233.90" width="7.69" height="11.10" fill="#f2e81c" shape-rendering="crispEdges"/>
<rect x="197.02" y="233.90" width="7.69" height="11.10" fill="#f2e81c" shape-rendering="crispEdges"/>
<rect x="204.42" y="233.90" width="7.69" height="11.10" fill="#f2e81c" shape-rendering="crispEdges"/>
<rect x="211.81" y="233.90" width="7.69" height="11.10" fill="#c8da2e" shape-rendering="crispEdges"/>
<rect x="34.4" y="115.1" width="184.80" height="129.60" fill="none" stroke="#22222e" stroke-width="1"/>
<rect x="17.4" y="115.10" width="7.2" height="64.80" fill="#f7941d"/>
<rect x="17.4" y="179.90" width="7.2" height="32.40" fill="#8cc63f"/>
<rect x="17.4" y="212.30" width="7.2" height="32.40" fill="#ed1c24"/>
<rect x="26" y="115.10" width="7" height="21.60" fill="#2e3192"/>
<rect x="26" y="136.70" width="7" height="32.40" fill="#ed1c24"/>
<rect x="26" y="169.10" width="7" height="10.80" fill="#2e3192"/>
<rect x="26" y="179.90" width="7" height="32.40" fill="#f2e81c"/>
<rect x="26" y="212.30" width="7" height="32.40" fill="#6cbd45"/>
<path d="M16.0 120.5 H13.4 V131.3 H16.0 M15.6 142.1 H12.8 V152.9 H15.6 M13.4 125.9 H12.0 V147.5 H12.8 M15.6 163.7 H12.4 V174.5 H15.6 M12.0 136.7 H11.2 V169.1 H12.4 M15.6 185.3 H12.4 V196.1 H15.6 M12.4 190.7 H11.6 V206.9 H15.6 M11.2 152.9 H10.4 V198.8 H11.6 M15.6 217.7 H13.0 V239.3 H15.6 M13.0 228.5 H15.6 M10.4 175.8 H1.4 V231.4 H13.0" stroke="#1a1a1a" stroke-width="0.9" fill="none"/>
<text transform="translate(23.6,247) rotate(-90)" font-size="8" font-weight="bold" text-anchor="end" fill="#111" textLength="25.5" lengthAdjust="spacingAndGlyphs">Cluster</text>
<text transform="translate(32.2,247) rotate(-90)" font-size="8" font-weight="bold" text-anchor="end" fill="#111" textLength="23" lengthAdjust="spacingAndGlyphs">Group</text>
<text transform="translate(40.0,247.8) rotate(-90)" font-size="3.0" text-anchor="end" fill="#444" textLength="39.0" lengthAdjust="spacingAndGlyphs">CAS 496 xxxxxxxxxx</text>
<text transform="translate(47.4,247.8) rotate(-90)" font-size="3.0" text-anchor="end" fill="#444" textLength="35.0" lengthAdjust="spacingAndGlyphs">CAS 672 xxxxxxxxxx</text>
<text transform="translate(54.7,247.8) rotate(-90)" font-size="3.0" text-anchor="end" fill="#444" textLength="40.0" lengthAdjust="spacingAndGlyphs">Butanoate metxxxxxxxx</text>
<text transform="translate(62.1,247.8) rotate(-90)" font-size="3.0" text-anchor="end" fill="#444" textLength="48.0" lengthAdjust="spacingAndGlyphs">Betaine homxxxxxxxx</text>
<text transform="translate(69.5,247.8) rotate(-90)" font-size="3.0" text-anchor="end" fill="#444" textLength="36.5" lengthAdjust="spacingAndGlyphs">Lysosomalxxxxxxxx</text>
<text transform="translate(76.8,247.8) rotate(-90)" font-size="3.0" text-anchor="end" fill="#444" textLength="30.0" lengthAdjust="spacingAndGlyphs">COP I vesiclxxxxxxxx</text>
<text transform="translate(84.2,247.8) rotate(-90)" font-size="3.0" text-anchor="end" fill="#444" textLength="35.7" lengthAdjust="spacingAndGlyphs">VEGFA-VEGxxxxxxxx</text>
<text transform="translate(91.5,247.8) rotate(-90)" font-size="3.0" text-anchor="end" fill="#444" textLength="42.5" lengthAdjust="spacingAndGlyphs">Arachidonicxxxxxxxx</text>
<text transform="translate(98.9,247.8) rotate(-90)" font-size="3.0" text-anchor="end" fill="#444" textLength="31.5" lengthAdjust="spacingAndGlyphs">COPII vesicxxxxxxxx</text>
<text transform="translate(106.3,247.8) rotate(-90)" font-size="3.0" text-anchor="end" fill="#444" textLength="40.0" lengthAdjust="spacingAndGlyphs">Butanoate mxxxxxxxx</text>
<text transform="translate(113.6,247.8) rotate(-90)" font-size="3.0" text-anchor="end" fill="#444" textLength="41.0" lengthAdjust="spacingAndGlyphs">Glycerophosxxxxxxxx</text>
<text transform="translate(121.0,247.8) rotate(-90)" font-size="3.0" text-anchor="end" fill="#444" textLength="33.0" lengthAdjust="spacingAndGlyphs">CAS 95 xxxxxxxxxx</text>
<text transform="translate(128.4,247.8) rotate(-90)" font-size="3.0" text-anchor="end" fill="#444" textLength="40.0" lengthAdjust="spacingAndGlyphs">CAS 97 xxxxxxxxxx</text>
<text transform="translate(135.7,247.8) rotate(-90)" font-size="3.0" text-anchor="end" fill="#444" textLength="38.0" lengthAdjust="spacingAndGlyphs">CAS 89 xxxxxxxxxx</text>
<text transform="translate(143.1,247.8) rotate(-90)" font-size="3.0" text-anchor="end" fill="#444" textLength="39.0" lengthAdjust="spacingAndGlyphs">Butyrate metxxxxxxxx</text>
<text transform="translate(150.4,247.8) rotate(-90)" font-size="3.0" text-anchor="end" fill="#444" textLength="35.0" lengthAdjust="spacingAndGlyphs">Glutamate abxxxxxxxx</text>
<text transform="translate(157.8,247.8) rotate(-90)" font-size="3.0" text-anchor="end" fill="#444" textLength="33.0" lengthAdjust="spacingAndGlyphs">CAS 211 xxxxxxxxxx</text>
<text transform="translate(165.2,247.8) rotate(-90)" font-size="3.0" text-anchor="end" fill="#444" textLength="41.5" lengthAdjust="spacingAndGlyphs">COPII vesicxxxxxxxx</text>
<text transform="translate(172.5,247.8) rotate(-90)" font-size="3.0" text-anchor="end" fill="#444" textLength="33.0" lengthAdjust="spacingAndGlyphs">ABC transpxxxxxxxx</text>
<text transform="translate(179.9,247.8) rotate(-90)" font-size="3.0" text-anchor="end" fill="#444" textLength="35.5" lengthAdjust="spacingAndGlyphs">CAS 89 xxxxxxxxxx</text>
<text transform="translate(187.3,247.8) rotate(-90)" font-size="3.0" text-anchor="end" fill="#444" textLength="35.0" lengthAdjust="spacingAndGlyphs">CAS 203 xxxxxxxxxx</text>
<text transform="translate(194.6,247.8) rotate(-90)" font-size="3.0" text-anchor="end" fill="#444" textLength="40.0" lengthAdjust="spacingAndGlyphs">CAS 307 xxxxxxxxxx</text>
<text transform="translate(202.0,247.8) rotate(-90)" font-size="3.0" text-anchor="end" fill="#444" textLength="41.0" lengthAdjust="spacingAndGlyphs">Carbon fixxxxxxxxx</text>
<text transform="translate(209.3,247.8) rotate(-90)" font-size="3.0" text-anchor="end" fill="#444" textLength="46.0" lengthAdjust="spacingAndGlyphs">Aminoacylxxxxxxxx</text>
<text transform="translate(216.7,247.8) rotate(-90)" font-size="3.0" text-anchor="end" fill="#444" textLength="35.5" lengthAdjust="spacingAndGlyphs">Cholesterolxxxxxxxx</text>
<text x="223.5" y="15.3" font-size="16.6" fill="#000" font-weight="bold" text-anchor="start" textLength="10.6" lengthAdjust="spacingAndGlyphs" stroke="#000" stroke-width="0.35">C</text>
<path d="M242 20 H341.5 M242 37.3 H341.5 M242 54.7 H341.5 M242 72 H341.5 M242 89.4 H341.5 M257.8 2.6 V105.4 M278.4 2.6 V105.4 M298.9 2.6 V105.4 M319.4 2.6 V105.4" stroke="#d8d8d8" stroke-width="0.7" stroke-dasharray="1.8 1.8" fill="none"/>
<ellipse cx="273.7" cy="37.7" rx="20.8" ry="16.5" fill="#f2c8ca"/>
<ellipse cx="318" cy="31" rx="21" ry="3.2" transform="rotate(-58 318 31)" fill="#f8f2bc"/>
<ellipse cx="302.6" cy="74.3" rx="24.2" ry="3.2" transform="rotate(-56 302.6 74.3)" fill="#c6e1cc"/>
<ellipse cx="293.3" cy="87.8" rx="8.3" ry="2.7" transform="rotate(-56 293.3 87.8)" fill="#cdd0ee" opacity="0.9"/>
<circle cx="264" cy="40" r="1.35" fill="#777" stroke="#151515" stroke-width="0.9"/>
<circle cx="277" cy="30.5" r="1.35" fill="#777" stroke="#151515" stroke-width="0.9"/>
<circle cx="280.4" cy="44" r="1.35" fill="#777" stroke="#151515" stroke-width="0.9"/>
<circle cx="324" cy="23.5" r="1.35" fill="#777" stroke="#151515" stroke-width="0.9"/>
<circle cx="316" cy="30.7" r="1.35" fill="#777" stroke="#151515" stroke-width="0.9"/>
<circle cx="314" cy="38.3" r="1.35" fill="#777" stroke="#151515" stroke-width="0.9"/>
<circle cx="295.2" cy="85.2" r="1.35" fill="#777" stroke="#151515" stroke-width="0.9"/>
<circle cx="300.6" cy="73.8" r="1.35" fill="#777" stroke="#151515" stroke-width="0.9"/>
<circle cx="302.2" cy="76.8" r="1.35" fill="#777" stroke="#151515" stroke-width="0.9"/>
<circle cx="304" cy="72.2" r="1.35" fill="#777" stroke="#151515" stroke-width="0.9"/>
<circle cx="310" cy="63" r="1.35" fill="#777" stroke="#151515" stroke-width="0.9"/>
<rect x="242" y="2.6" width="99.5" height="102.80000000000001" fill="none" stroke="#111" stroke-width="1.3"/>
<text transform="translate(238.8,2.6) rotate(-90)" font-size="2.6" text-anchor="middle" fill="#666">0.0</text>
<text transform="translate(238.8,20) rotate(-90)" font-size="2.6" text-anchor="middle" fill="#666">0.0</text>
<text transform="translate(238.8,37.3) rotate(-90)" font-size="2.6" text-anchor="middle" fill="#666">0.0</text>
<text transform="translate(238.8,54.7) rotate(-90)" font-size="2.6" text-anchor="middle" fill="#666">0.0</text>
<text transform="translate(238.8,72) rotate(-90)" font-size="2.6" text-anchor="middle" fill="#666">0.0</text>
<text transform="translate(238.8,89.4) rotate(-90)" font-size="2.6" text-anchor="middle" fill="#666">0.0</text>
<text x="257.8" y="111.6" font-size="2.8" fill="#444" font-weight="normal" text-anchor="middle" >0.0</text>
<path d="M257.8 105.4 V107.0" stroke="#222" stroke-width="0.8"/>
<text x="278.4" y="111.6" font-size="2.8" fill="#444" font-weight="normal" text-anchor="middle" >0.0</text>
<path d="M278.4 105.4 V107.0" stroke="#222" stroke-width="0.8"/>
<text x="298.9" y="111.6" font-size="2.8" fill="#444" font-weight="normal" text-anchor="middle" >0.0</text>
<path d="M298.9 105.4 V107.0" stroke="#222" stroke-width="0.8"/>
<text x="319.4" y="111.6" font-size="2.8" fill="#444" font-weight="normal" text-anchor="middle" >0.0</text>
<path d="M319.4 105.4 V107.0" stroke="#222" stroke-width="0.8"/>
<text x="288.9" y="118.3" font-size="5.6" fill="#111" font-weight="bold" text-anchor="middle" textLength="56.6" lengthAdjust="spacingAndGlyphs" stroke="#111" stroke-width="0.2">Component 1 ( 51.6 %)</text>
<text transform="translate(233.7,53.5) rotate(-90)" font-size="5.6" font-weight="bold" text-anchor="middle" fill="#111" stroke="#111" stroke-width="0.2" textLength="57" lengthAdjust="spacingAndGlyphs">Component 2 ( 20.9 %)</text>
<text x="224.4" y="139" font-size="16.6" fill="#000" font-weight="bold" text-anchor="start" textLength="13.4" lengthAdjust="spacingAndGlyphs" stroke="#000" stroke-width="0.35">D</text>
<path d="M249.4 130.7 H342 M249.4 156.3 H342 M249.4 182.4 H342 M249.4 207 H342 M249.4 233.7 H342 M249.4 259 H342 M266.2 126.4 V272.2 M295.5 126.4 V272.2 M324.4 126.4 V272.2" stroke="#e6e6e6" stroke-width="0.7" fill="none"/>
<g stroke="#f0574b" stroke-width="1.3" fill="none">
<path d="M266.2 162.3 V214.4 M266.2 235.2 V252.2"/>
<rect x="255.2" y="214.4" width="22" height="20.799999999999983" fill="#fff"/>
<path d="M255.2 230.2 H277.2" stroke-width="1.4"/>
</g>
<path d="M264.9 162.3 H267.5 L266.2 164.10000000000002 Z M264.9 252.2 H267.5 L266.2 250.39999999999998 Z" fill="#f0574b"/>
<path d="M264.6 196.3 H267.8 M264.6 241.2 H267.8" stroke="#f0574b" stroke-width="1"/>
<g stroke="#22a839" stroke-width="1.3" fill="none">
<path d="M295.4 191.7 V219.7 M295.4 235.6 V243.4"/>
<rect x="284.4" y="219.7" width="22" height="15.900000000000006" fill="#fff"/>
<path d="M284.4 235.4 H306.4" stroke-width="1.4"/>
</g>
<path d="M294.09999999999997 191.7 H296.7 L295.4 193.5 Z M294.09999999999997 243.4 H296.7 L295.4 241.6 Z" fill="#22a839"/>
<g stroke="#4a7fd4" stroke-width="1.3" fill="none">
<path d="M324.4 232 V243.4 M324.4 252.6 V265.7"/>
<rect x="313.4" y="243.4" width="22" height="9.199999999999989" fill="#fff"/>
<path d="M313.4 246.8 H335.4" stroke-width="1.4"/>
</g>
<path d="M323.09999999999997 232 H325.7 L324.4 233.8 Z M323.09999999999997 265.7 H325.7 L324.4 263.9 Z" fill="#4a7fd4"/>
<path d="M266.2 148.4 V145.4 H324.4 V148.4" stroke="#111" stroke-width="1" fill="none"/>
<text x="295.5" y="145.2" font-size="8.5" fill="#111" font-weight="bold" text-anchor="middle" >*</text>
<path d="M249.4 126.4 V272.2 H342 V126.4 H249.4" fill="none" stroke="#3a3a3a" stroke-width="1.5"/>
<text x="246.8" y="132.0" font-size="3.8" fill="#555" font-weight="normal" text-anchor="end" >140</text>
<text x="246.8" y="183.70000000000002" font-size="3.8" fill="#555" font-weight="normal" text-anchor="end" >130</text>
<text x="246.8" y="235.0" font-size="3.8" fill="#555" font-weight="normal" text-anchor="end" >120</text>
<text transform="translate(237.2,204.5) rotate(-90)" font-size="6.4" font-weight="bold" text-anchor="middle" fill="#111" textLength="65" lengthAdjust="spacingAndGlyphs">Chao1 Diversity Index</text>
<text transform="translate(271.4,279.9) rotate(-45)" font-size="6.4" font-weight="bold" text-anchor="end" fill="#111" textLength="10.5" lengthAdjust="spacingAndGlyphs">Ctl</text>
<text transform="translate(310.1,276.8) rotate(-45)" font-size="6.4" font-weight="bold" text-anchor="end" fill="#111" textLength="27.5" lengthAdjust="spacingAndGlyphs">Tac (2d)</text>
<text transform="translate(337,276.8) rotate(-45)" font-size="6.4" font-weight="bold" text-anchor="end" fill="#111" textLength="27.5" lengthAdjust="spacingAndGlyphs">Tac (7d)</text>
<text x="349.2" y="15.8" font-size="17.5" fill="#000" font-weight="bold" text-anchor="start" textLength="9.8" lengthAdjust="spacingAndGlyphs" stroke="#000" stroke-width="0.35">E</text>
<path d="M366.3 249.6 H718.9 M366.3 227.0 H718.9 M366.3 204.5 H718.9 M366.3 181.9 H718.9 M366.3 159.4 H718.9 M366.3 136.8 H718.9 M366.3 114.3 H718.9 M366.3 91.7 H718.9 M366.3 69.2 H718.9 M366.3 46.6 H718.9 M366.3 24.0 H718.9 M377.3 3.4 V261.2 M421.5 3.4 V261.2 M465.7 3.4 V261.2 M509.9 3.4 V261.2 M554.1 3.4 V261.2 M598.4 3.4 V261.2 M642.6 3.4 V261.2 M686.8 3.4 V261.2" stroke="#e4e6ea" stroke-width="0.8" fill="none"/>
<circle cx="489.7" cy="191.3" r="1.65" fill="#b3b3b3"/>
<circle cx="494.0" cy="191.3" r="1.65" fill="#b3b3b3"/>
<circle cx="497.3" cy="193.0" r="1.65" fill="#b3b3b3"/>
<circle cx="487.2" cy="194.7" r="1.65" fill="#b3b3b3"/>
<circle cx="482.6" cy="195.9" r="1.65" fill="#b3b3b3"/>
<circle cx="479.7" cy="197.2" r="1.65" fill="#b3b3b3"/>
<circle cx="482.6" cy="198.4" r="1.65" fill="#b3b3b3"/>
<circle cx="479.2" cy="198.9" r="1.65" fill="#b3b3b3"/>
<circle cx="473.4" cy="199.3" r="1.65" fill="#b3b3b3"/>
<circle cx="474.6" cy="201.4" r="1.65" fill="#b3b3b3"/>
<circle cx="489.3" cy="198.4" r="1.65" fill="#b3b3b3"/>
<circle cx="493.1" cy="197.6" r="1.65" fill="#b3b3b3"/>
<circle cx="485.1" cy="197.6" r="1.65" fill="#b3b3b3"/>
<circle cx="515.4" cy="197.6" r="1.65" fill="#b3b3b3"/>
<circle cx="516.2" cy="193.0" r="1.65" fill="#b3b3b3"/>
<circle cx="524.6" cy="186.7" r="1.65" fill="#b3b3b3"/>
<circle cx="525.5" cy="189.6" r="1.65" fill="#b3b3b3"/>
<circle cx="504.5" cy="199.7" r="1.65" fill="#b3b3b3"/>
<circle cx="510.3" cy="199.7" r="1.65" fill="#b3b3b3"/>
<circle cx="507.8" cy="201.8" r="1.65" fill="#b3b3b3"/>
<circle cx="511.2" cy="202.6" r="1.65" fill="#b3b3b3"/>
<circle cx="514.5" cy="203.1" r="1.65" fill="#b3b3b3"/>
<circle cx="503.2" cy="203.5" r="1.65" fill="#b3b3b3"/>
<circle cx="492.7" cy="203.1" r="1.65" fill="#b3b3b3"/>
<circle cx="497.7" cy="204.7" r="1.65" fill="#b3b3b3"/>
<circle cx="508.7" cy="205.2" r="1.65" fill="#b3b3b3"/>
<circle cx="512.0" cy="205.6" r="1.65" fill="#b3b3b3"/>
<circle cx="515.4" cy="206.0" r="1.65" fill="#b3b3b3"/>
<circle cx="517.9" cy="206.8" r="1.65" fill="#b3b3b3"/>
<circle cx="520.4" cy="201.8" r="1.65" fill="#b3b3b3"/>
<circle cx="522.9" cy="201.0" r="1.65" fill="#b3b3b3"/>
<circle cx="528.4" cy="202.2" r="1.65" fill="#b3b3b3"/>
<circle cx="475.9" cy="207.3" r="1.65" fill="#b3b3b3"/>
<circle cx="487.6" cy="207.7" r="1.65" fill="#b3b3b3"/>
<circle cx="503.6" cy="207.7" r="1.65" fill="#b3b3b3"/>
<circle cx="524.6" cy="208.5" r="1.65" fill="#b3b3b3"/>
<circle cx="519.6" cy="208.9" r="1.65" fill="#b3b3b3"/>
<circle cx="542.2" cy="188.4" r="1.65" fill="#b3b3b3"/>
<circle cx="532.5" cy="192.6" r="1.65" fill="#b3b3b3"/>
<circle cx="567.8" cy="189.2" r="1.65" fill="#b3b3b3"/>
<circle cx="570.3" cy="191.3" r="1.65" fill="#b3b3b3"/>
<circle cx="572.9" cy="194.2" r="1.65" fill="#b3b3b3"/>
<circle cx="583.8" cy="195.9" r="1.65" fill="#b3b3b3"/>
<circle cx="545.1" cy="201.4" r="1.65" fill="#b3b3b3"/>
<circle cx="542.6" cy="203.5" r="1.65" fill="#b3b3b3"/>
<circle cx="535.0" cy="205.6" r="1.65" fill="#b3b3b3"/>
<circle cx="534.2" cy="206.8" r="1.65" fill="#b3b3b3"/>
<circle cx="542.6" cy="207.7" r="1.65" fill="#b3b3b3"/>
<circle cx="567.0" cy="205.2" r="1.65" fill="#b3b3b3"/>
<circle cx="568.7" cy="209.4" r="1.65" fill="#b3b3b3"/>
<circle cx="589.7" cy="203.9" r="1.65" fill="#b3b3b3"/>
<circle cx="460.4" cy="217.5" r="1.65" fill="#b3b3b3"/>
<circle cx="467.6" cy="222.6" r="1.65" fill="#b3b3b3"/>
<circle cx="467.6" cy="230.5" r="1.65" fill="#b3b3b3"/>
<circle cx="422.4" cy="233.5" r="1.65" fill="#b3b3b3"/>
<circle cx="443.2" cy="235.2" r="1.65" fill="#b3b3b3"/>
<circle cx="425.1" cy="206.8" r="1.65" fill="#b3b3b3"/>
<circle cx="434.0" cy="209.5" r="1.65" fill="#b3b3b3"/>
<circle cx="440.7" cy="206.1" r="1.65" fill="#b3b3b3"/>
<circle cx="461.7" cy="204.5" r="1.65" fill="#b3b3b3"/>
<circle cx="503.6" cy="213.4" r="1.65" fill="#b3b3b3"/>
<circle cx="513.3" cy="213.4" r="1.65" fill="#b3b3b3"/>
<circle cx="516.2" cy="212.5" r="1.65" fill="#b3b3b3"/>
<circle cx="520.8" cy="210.0" r="1.65" fill="#b3b3b3"/>
<circle cx="520.8" cy="214.6" r="1.65" fill="#b3b3b3"/>
<circle cx="478.0" cy="214.6" r="1.65" fill="#b3b3b3"/>
<circle cx="479.2" cy="216.7" r="1.65" fill="#b3b3b3"/>
<circle cx="472.9" cy="218.8" r="1.65" fill="#b3b3b3"/>
<circle cx="500.7" cy="217.1" r="1.65" fill="#b3b3b3"/>
<circle cx="507.0" cy="218.0" r="1.65" fill="#b3b3b3"/>
<circle cx="505.3" cy="220.1" r="1.65" fill="#b3b3b3"/>
<circle cx="512.4" cy="218.0" r="1.65" fill="#b3b3b3"/>
<circle cx="518.7" cy="218.8" r="1.65" fill="#b3b3b3"/>
<circle cx="525.0" cy="219.2" r="1.65" fill="#b3b3b3"/>
<circle cx="488.5" cy="220.9" r="1.65" fill="#b3b3b3"/>
<circle cx="494.8" cy="222.6" r="1.65" fill="#b3b3b3"/>
<circle cx="499.8" cy="221.8" r="1.65" fill="#b3b3b3"/>
<circle cx="501.5" cy="223.9" r="1.65" fill="#b3b3b3"/>
<circle cx="510.3" cy="222.2" r="1.65" fill="#b3b3b3"/>
<circle cx="520.0" cy="224.7" r="1.65" fill="#b3b3b3"/>
<circle cx="517.1" cy="230.2" r="1.65" fill="#b3b3b3"/>
<circle cx="522.1" cy="231.4" r="1.65" fill="#b3b3b3"/>
<circle cx="528.0" cy="226.4" r="1.65" fill="#b3b3b3"/>
<circle cx="483.9" cy="229.7" r="1.65" fill="#b3b3b3"/>
<circle cx="491.8" cy="233.1" r="1.65" fill="#b3b3b3"/>
<circle cx="497.7" cy="233.1" r="1.65" fill="#b3b3b3"/>
<circle cx="509.5" cy="234.8" r="1.65" fill="#b3b3b3"/>
<circle cx="531.7" cy="212.9" r="1.65" fill="#b3b3b3"/>
<circle cx="546.4" cy="212.5" r="1.65" fill="#b3b3b3"/>
<circle cx="568.7" cy="210.4" r="1.65" fill="#b3b3b3"/>
<circle cx="567.0" cy="217.1" r="1.65" fill="#b3b3b3"/>
<circle cx="569.1" cy="215.5" r="1.65" fill="#b3b3b3"/>
<circle cx="570.3" cy="218.0" r="1.65" fill="#b3b3b3"/>
<circle cx="577.5" cy="216.3" r="1.65" fill="#b3b3b3"/>
<circle cx="573.7" cy="219.7" r="1.65" fill="#b3b3b3"/>
<circle cx="562.8" cy="221.8" r="1.65" fill="#b3b3b3"/>
<circle cx="542.6" cy="221.8" r="1.65" fill="#b3b3b3"/>
<circle cx="534.2" cy="222.6" r="1.65" fill="#b3b3b3"/>
<circle cx="532.5" cy="224.7" r="1.65" fill="#b3b3b3"/>
<circle cx="530.4" cy="227.2" r="1.65" fill="#b3b3b3"/>
<circle cx="544.7" cy="227.2" r="1.65" fill="#b3b3b3"/>
<circle cx="547.2" cy="229.3" r="1.65" fill="#b3b3b3"/>
<circle cx="542.2" cy="230.2" r="1.65" fill="#b3b3b3"/>
<circle cx="538.4" cy="232.3" r="1.65" fill="#b3b3b3"/>
<circle cx="545.5" cy="233.1" r="1.65" fill="#b3b3b3"/>
<circle cx="555.2" cy="229.3" r="1.65" fill="#b3b3b3"/>
<circle cx="559.4" cy="227.2" r="1.65" fill="#b3b3b3"/>
<circle cx="569.1" cy="229.5" r="1.65" fill="#b3b3b3"/>
<circle cx="559.8" cy="233.9" r="1.65" fill="#b3b3b3"/>
<circle cx="564.0" cy="233.5" r="1.65" fill="#b3b3b3"/>
<circle cx="588.0" cy="213.8" r="1.65" fill="#b3b3b3"/>
<circle cx="492.3" cy="235.0" r="1.65" fill="#b3b3b3"/>
<circle cx="496.9" cy="235.0" r="1.65" fill="#b3b3b3"/>
<circle cx="509.5" cy="235.8" r="1.65" fill="#b3b3b3"/>
<circle cx="513.7" cy="237.5" r="1.65" fill="#b3b3b3"/>
<circle cx="518.7" cy="238.4" r="1.65" fill="#b3b3b3"/>
<circle cx="520.4" cy="236.7" r="1.65" fill="#b3b3b3"/>
<circle cx="513.3" cy="240.9" r="1.65" fill="#b3b3b3"/>
<circle cx="511.2" cy="243.8" r="1.65" fill="#b3b3b3"/>
<circle cx="515.4" cy="243.0" r="1.65" fill="#b3b3b3"/>
<circle cx="519.6" cy="240.9" r="1.65" fill="#b3b3b3"/>
<circle cx="520.4" cy="245.5" r="1.65" fill="#b3b3b3"/>
<circle cx="528.8" cy="241.7" r="1.65" fill="#b3b3b3"/>
<circle cx="532.5" cy="236.7" r="1.65" fill="#b3b3b3"/>
<circle cx="536.7" cy="239.2" r="1.65" fill="#b3b3b3"/>
<circle cx="533.4" cy="243.4" r="1.65" fill="#b3b3b3"/>
<circle cx="535.0" cy="248.4" r="1.65" fill="#b3b3b3"/>
<circle cx="532.5" cy="247.2" r="1.65" fill="#b3b3b3"/>
<circle cx="539.2" cy="248.4" r="1.65" fill="#b3b3b3"/>
<circle cx="541.8" cy="245.9" r="1.65" fill="#b3b3b3"/>
<circle cx="543.4" cy="238.4" r="1.65" fill="#b3b3b3"/>
<circle cx="545.5" cy="236.7" r="1.65" fill="#b3b3b3"/>
<circle cx="549.3" cy="236.7" r="1.65" fill="#b3b3b3"/>
<circle cx="551.0" cy="240.0" r="1.65" fill="#b3b3b3"/>
<circle cx="546.4" cy="243.4" r="1.65" fill="#b3b3b3"/>
<circle cx="548.1" cy="245.9" r="1.65" fill="#b3b3b3"/>
<circle cx="549.3" cy="249.3" r="1.65" fill="#b3b3b3"/>
<circle cx="553.5" cy="243.4" r="1.65" fill="#b3b3b3"/>
<circle cx="554.4" cy="247.6" r="1.65" fill="#b3b3b3"/>
<circle cx="556.9" cy="248.4" r="1.65" fill="#b3b3b3"/>
<circle cx="559.4" cy="248.4" r="1.65" fill="#b3b3b3"/>
<circle cx="561.1" cy="247.6" r="1.65" fill="#b3b3b3"/>
<circle cx="555.2" cy="237.5" r="1.65" fill="#b3b3b3"/>
<circle cx="559.0" cy="235.8" r="1.65" fill="#b3b3b3"/>
<circle cx="559.4" cy="239.2" r="1.65" fill="#b3b3b3"/>
<circle cx="561.9" cy="244.2" r="1.65" fill="#b3b3b3"/>
<circle cx="564.9" cy="244.2" r="1.65" fill="#b3b3b3"/>
<circle cx="567.8" cy="241.3" r="1.65" fill="#b3b3b3"/>
<circle cx="575.4" cy="235.8" r="1.65" fill="#b3b3b3"/>
<circle cx="573.7" cy="238.8" r="1.65" fill="#b3b3b3"/>
<circle cx="575.8" cy="240.0" r="1.65" fill="#b3b3b3"/>
<circle cx="580.4" cy="241.7" r="1.65" fill="#b3b3b3"/>
<circle cx="580.4" cy="245.1" r="1.65" fill="#b3b3b3"/>
<circle cx="537.6" cy="244.7" r="1.65" fill="#b3b3b3"/>
<circle cx="530.4" cy="237.5" r="1.65" fill="#b3b3b3"/>
<circle cx="583.4" cy="196.3" r="1.65" fill="#b3b3b3"/>
<circle cx="604.8" cy="201.3" r="1.65" fill="#b3b3b3"/>
<circle cx="590.9" cy="204.2" r="1.65" fill="#b3b3b3"/>
<circle cx="589.2" cy="213.9" r="1.65" fill="#b3b3b3"/>
<circle cx="585.0" cy="215.2" r="1.65" fill="#b3b3b3"/>
<circle cx="600.2" cy="217.3" r="1.65" fill="#b3b3b3"/>
<circle cx="604.4" cy="217.3" r="1.65" fill="#b3b3b3"/>
<circle cx="627.9" cy="213.9" r="1.65" fill="#b3b3b3"/>
<circle cx="530.1" cy="147.1" r="1.65" fill="#b3b3b3"/>
<circle cx="536.8" cy="147.6" r="1.65" fill="#b3b3b3"/>
<circle cx="572.9" cy="150.5" r="1.65" fill="#b3b3b3"/>
<circle cx="536.0" cy="168.8" r="1.65" fill="#b3b3b3"/>
<circle cx="530.5" cy="174.2" r="1.65" fill="#b3b3b3"/>
<circle cx="539.3" cy="178.0" r="1.65" fill="#b3b3b3"/>
<circle cx="570.0" cy="170.5" r="1.65" fill="#b3b3b3"/>
<circle cx="575.5" cy="169.2" r="1.65" fill="#b3b3b3"/>
<circle cx="577.1" cy="167.1" r="1.65" fill="#b3b3b3"/>
<circle cx="526.7" cy="186.4" r="1.65" fill="#b3b3b3"/>
<circle cx="542.3" cy="188.5" r="1.65" fill="#b3b3b3"/>
<circle cx="598.7" cy="234.5" r="1.65" fill="#b3b3b3"/>
<circle cx="490.2" cy="193.4" r="1.65" fill="#b3b3b3"/>
<circle cx="488.5" cy="201.0" r="1.65" fill="#b3b3b3"/>
<circle cx="506.1" cy="202.7" r="1.65" fill="#b3b3b3"/>
<circle cx="508.7" cy="200.1" r="1.65" fill="#b3b3b3"/>
<circle cx="513.7" cy="207.7" r="1.65" fill="#b3b3b3"/>
<circle cx="497.8" cy="211.0" r="1.65" fill="#b3b3b3"/>
<circle cx="510.3" cy="209.4" r="1.65" fill="#b3b3b3"/>
<circle cx="502.8" cy="216.9" r="1.65" fill="#b3b3b3"/>
<circle cx="504.5" cy="224.5" r="1.65" fill="#b3b3b3"/>
<circle cx="512.0" cy="221.1" r="1.65" fill="#b3b3b3"/>
<circle cx="517.0" cy="218.6" r="1.65" fill="#b3b3b3"/>
<circle cx="527.1" cy="217.8" r="1.65" fill="#b3b3b3"/>
<circle cx="526.3" cy="221.1" r="1.65" fill="#b3b3b3"/>
<circle cx="533.8" cy="220.3" r="1.65" fill="#b3b3b3"/>
<circle cx="547.2" cy="227.0" r="1.65" fill="#b3b3b3"/>
<circle cx="559.0" cy="225.3" r="1.65" fill="#b3b3b3"/>
<circle cx="567.4" cy="215.2" r="1.65" fill="#b3b3b3"/>
<circle cx="519.6" cy="229.2" r="1.65" fill="#b3b3b3"/>
<circle cx="517.0" cy="239.3" r="1.65" fill="#b3b3b3"/>
<circle cx="520.4" cy="238.5" r="1.65" fill="#b3b3b3"/>
<circle cx="530.5" cy="235.9" r="1.65" fill="#b3b3b3"/>
<circle cx="532.1" cy="238.5" r="1.65" fill="#b3b3b3"/>
<circle cx="534.7" cy="240.1" r="1.65" fill="#b3b3b3"/>
<circle cx="537.2" cy="242.7" r="1.65" fill="#b3b3b3"/>
<circle cx="543.0" cy="243.5" r="1.65" fill="#b3b3b3"/>
<circle cx="545.6" cy="240.1" r="1.65" fill="#b3b3b3"/>
<circle cx="548.1" cy="243.5" r="1.65" fill="#b3b3b3"/>
<circle cx="547.2" cy="247.7" r="1.65" fill="#b3b3b3"/>
<circle cx="550.6" cy="241.8" r="1.65" fill="#b3b3b3"/>
<circle cx="553.1" cy="239.3" r="1.65" fill="#b3b3b3"/>
<circle cx="555.6" cy="242.7" r="1.65" fill="#b3b3b3"/>
<circle cx="556.5" cy="246.8" r="1.65" fill="#b3b3b3"/>
<circle cx="559.0" cy="245.2" r="1.65" fill="#b3b3b3"/>
<circle cx="465.0" cy="246.0" r="1.65" fill="#b3b3b3"/>
<circle cx="561.0" cy="245.9" r="1.65" fill="#b3b3b3"/>
<circle cx="550.0" cy="234.2" r="1.65" fill="#b3b3b3"/>
<circle cx="556.8" cy="234.2" r="1.65" fill="#b3b3b3"/>
<circle cx="558.5" cy="237.6" r="1.65" fill="#b3b3b3"/>
<circle cx="551.7" cy="241.7" r="1.65" fill="#b3b3b3"/>
<circle cx="543.4" cy="246.8" r="1.65" fill="#b3b3b3"/>
<circle cx="465.3" cy="246.4" r="1.65" fill="#b3b3b3"/>
<circle cx="524.0" cy="240.9" r="1.65" fill="#b3b3b3"/>
<circle cx="530.7" cy="235.0" r="1.65" fill="#b3b3b3"/>
<circle cx="535.8" cy="245.1" r="1.65" fill="#b3b3b3"/>
<circle cx="538.3" cy="241.7" r="1.65" fill="#b3b3b3"/>
<circle cx="399.3" cy="211.9" r="1.65" fill="#b3b3b3"/>
<circle cx="408.9" cy="214.9" r="1.65" fill="#b3b3b3"/>
<circle cx="583.3" cy="140.0" r="1.65" fill="#b3b3b3"/>
<circle cx="581.6" cy="137.2" r="1.65" fill="#b3b3b3"/>
<circle cx="583.6" cy="140.8" r="1.65" fill="#b3b3b3"/>
<circle cx="561.8" cy="97.0" r="1.65" fill="#b3b3b3"/>
<circle cx="533.0" cy="167.7" r="1.65" fill="#b3b3b3"/>
<path d="M524.7 6.6 V261.2" stroke="#1a1a1a" stroke-width="1.4" stroke-dasharray="3.8 5.1"/>
<path d="M583.6 6.6 V261.2" stroke="#1a1a1a" stroke-width="1.4" stroke-dasharray="3.8 5.1"/>
<path d="M366 191 H718.9" stroke="#1a1a1a" stroke-width="1.5" stroke-dasharray="4.2 4.73"/>
<path d="M460.5 93.2 L469 96.5" stroke="#4d7ac8" stroke-width="1" fill="none"/>
<path d="M461.4 145.9 L452 153.4" stroke="#4d7ac8" stroke-width="1" fill="none"/>
<path d="M382 156 L388.8 161.8" stroke="#4d7ac8" stroke-width="1" fill="none"/>
<path d="M515.4 166 L525 163.5" stroke="#4d7ac8" stroke-width="1" fill="none"/>
<path d="M517.9 153.8 L550.6 156" stroke="#4d7ac8" stroke-width="1" fill="none"/>
<path d="M510.8 133.2 L520 139.6" stroke="#4d7ac8" stroke-width="1" fill="none"/>
<path d="M514.5 142.6 L518.6 151" stroke="#4d7ac8" stroke-width="1" fill="none"/>
<path d="M478.5 178.6 L486 178.6" stroke="#4d7ac8" stroke-width="1" fill="none"/>
<path d="M511 176 L516 180" stroke="#4d7ac8" stroke-width="1" fill="none"/>
<path d="M498.6 183 L504 187.5" stroke="#4d7ac8" stroke-width="1" fill="none"/>
<path d="M511.2 186.7 L508 191" stroke="#4d7ac8" stroke-width="1" fill="none"/>
<circle cx="460.5" cy="93.2" r="1.6" fill="#4d7ac8"/>
<circle cx="456.8" cy="97.8" r="1.6" fill="#4d7ac8"/>
<circle cx="453.8" cy="108.5" r="1.6" fill="#4d7ac8"/>
<circle cx="506.0" cy="118.0" r="1.6" fill="#4d7ac8"/>
<circle cx="455.5" cy="126.8" r="1.6" fill="#4d7ac8"/>
<circle cx="511.7" cy="126.0" r="1.6" fill="#4d7ac8"/>
<circle cx="444.6" cy="134.9" r="1.6" fill="#4d7ac8"/>
<circle cx="468.9" cy="134.4" r="1.6" fill="#4d7ac8"/>
<circle cx="520.4" cy="130.2" r="1.6" fill="#4d7ac8"/>
<circle cx="519.0" cy="143.3" r="1.6" fill="#4d7ac8"/>
<circle cx="522.0" cy="138.6" r="1.6" fill="#4d7ac8"/>
<circle cx="426.0" cy="147.0" r="1.6" fill="#4d7ac8"/>
<circle cx="461.4" cy="145.9" r="1.6" fill="#4d7ac8"/>
<circle cx="500.3" cy="156.8" r="1.6" fill="#4d7ac8"/>
<circle cx="489.4" cy="156.0" r="1.6" fill="#4d7ac8"/>
<circle cx="382.0" cy="156.0" r="1.6" fill="#4d7ac8"/>
<circle cx="480.7" cy="167.7" r="1.6" fill="#4d7ac8"/>
<circle cx="479.0" cy="168.9" r="1.6" fill="#4d7ac8"/>
<circle cx="487.7" cy="161.8" r="1.6" fill="#4d7ac8"/>
<circle cx="515.4" cy="166.0" r="1.6" fill="#4d7ac8"/>
<circle cx="513.4" cy="171.9" r="1.6" fill="#4d7ac8"/>
<circle cx="522.0" cy="176.0" r="1.6" fill="#4d7ac8"/>
<circle cx="490.4" cy="173.6" r="1.6" fill="#4d7ac8"/>
<circle cx="474.3" cy="179.4" r="1.6" fill="#4d7ac8"/>
<circle cx="478.5" cy="178.6" r="1.6" fill="#4d7ac8"/>
<circle cx="511.0" cy="176.0" r="1.6" fill="#4d7ac8"/>
<circle cx="444.3" cy="179.4" r="1.6" fill="#4d7ac8"/>
<circle cx="469.0" cy="181.6" r="1.6" fill="#4d7ac8"/>
<circle cx="474.8" cy="179.0" r="1.6" fill="#4d7ac8"/>
<circle cx="456.3" cy="191.4" r="1.6" fill="#4d7ac8"/>
<circle cx="463.0" cy="189.7" r="1.6" fill="#4d7ac8"/>
<circle cx="498.6" cy="183.0" r="1.6" fill="#4d7ac8"/>
<circle cx="503.6" cy="184.2" r="1.6" fill="#4d7ac8"/>
<circle cx="511.2" cy="186.7" r="1.6" fill="#4d7ac8"/>
<circle cx="517.9" cy="153.8" r="1.6" fill="#4d7ac8"/>
<circle cx="455.5" cy="124.5" r="1.6" fill="#4d7ac8"/>
<circle cx="588.3" cy="14.8" r="1.7" fill="#ad1018"/>
<circle cx="584.1" cy="69.3" r="1.7" fill="#ad1018"/>
<circle cx="588.7" cy="98.7" r="1.7" fill="#ad1018"/>
<circle cx="627.2" cy="94.0" r="1.7" fill="#ad1018"/>
<circle cx="584.5" cy="104.7" r="1.7" fill="#ad1018"/>
<circle cx="630.6" cy="116.4" r="1.7" fill="#ad1018"/>
<circle cx="636.5" cy="131.0" r="1.7" fill="#ad1018"/>
<circle cx="702.7" cy="131.9" r="1.7" fill="#ad1018"/>
<circle cx="588.3" cy="134.0" r="1.7" fill="#ad1018"/>
<circle cx="600.0" cy="139.8" r="1.7" fill="#ad1018"/>
<circle cx="656.5" cy="156.0" r="1.7" fill="#ad1018"/>
<circle cx="584.0" cy="170.5" r="1.7" fill="#ad1018"/>
<circle cx="584.0" cy="179.0" r="1.7" fill="#ad1018"/>
<circle cx="625.2" cy="177.0" r="1.7" fill="#ad1018"/>
<circle cx="607.4" cy="187.3" r="1.7" fill="#ad1018"/>
<text x="437" y="91.0" font-size="5.8" fill="#4d7ac8" font-weight="bold" text-anchor="start" textLength="32" lengthAdjust="spacingAndGlyphs" >Glutaric acid</text>
<text x="469" y="99.1" font-size="5.8" fill="#4d7ac8" font-weight="bold" text-anchor="start" textLength="31" lengthAdjust="spacingAndGlyphs" >Ethanolamine</text>
<text x="432" y="104.89999999999999" font-size="5.8" fill="#4d7ac8" font-weight="bold" text-anchor="start" textLength="36" lengthAdjust="spacingAndGlyphs" >Noradrenaline</text>
<text x="451" y="115.5" font-size="5.8" fill="#4d7ac8" font-weight="bold" text-anchor="start" textLength="19.6" lengthAdjust="spacingAndGlyphs" >Betaine</text>
<text x="486.8" y="115.89999999999999" font-size="5.8" fill="#4d7ac8" font-weight="bold" text-anchor="start" textLength="26.9" lengthAdjust="spacingAndGlyphs" >Lipoamide</text>
<text x="441" y="124.39999999999999" font-size="5.8" fill="#4d7ac8" font-weight="bold" text-anchor="start" textLength="43" lengthAdjust="spacingAndGlyphs" >Isovalerylalanine</text>
<text x="514.5" y="123.89999999999999" font-size="5.8" fill="#4d7ac8" font-weight="bold" text-anchor="start" textLength="47.0" lengthAdjust="spacingAndGlyphs" >Diphenylcarbazide</text>
<text x="433.7" y="133.1" font-size="5.8" fill="#4d7ac8" font-weight="bold" text-anchor="start" textLength="33.3" lengthAdjust="spacingAndGlyphs" >Syringic acid</text>
<text x="470" y="132.6" font-size="5.8" fill="#4d7ac8" font-weight="bold" text-anchor="start" textLength="53.8" lengthAdjust="spacingAndGlyphs" >Carboxymethyllysine</text>
<text x="524.6" y="136.5" font-size="5.8" fill="#4d7ac8" font-weight="bold" text-anchor="start" textLength="16.8" lengthAdjust="spacingAndGlyphs" >Uridine</text>
<text x="406" y="142.1" font-size="5.8" fill="#4d7ac8" font-weight="bold" text-anchor="start" textLength="44.5" lengthAdjust="spacingAndGlyphs" >Homovanillic acid</text>
<text x="450.5" y="142.1" font-size="5.8" fill="#4d7ac8" font-weight="bold" text-anchor="start" textLength="28.5" lengthAdjust="spacingAndGlyphs" >Putrescine</text>
<text x="481" y="144.9" font-size="5.8" fill="#4d7ac8" font-weight="bold" text-anchor="start" textLength="36" lengthAdjust="spacingAndGlyphs" >Trimethylamine</text>
<text x="524.6" y="144.1" font-size="5.8" fill="#4d7ac8" font-weight="bold" text-anchor="start" textLength="25.2" lengthAdjust="spacingAndGlyphs" >γ-Glu-Asp</text>
<text x="374.5" y="149.6" font-size="5.8" fill="#4d7ac8" font-weight="bold" text-anchor="start" textLength="52.9" lengthAdjust="spacingAndGlyphs" >N2-Succinylornithine</text>
<text x="393.4" y="158.5" font-size="5.8" fill="#4d7ac8" font-weight="bold" text-anchor="start" textLength="75.6" lengthAdjust="spacingAndGlyphs" >1H-Imidazole-4-propionic acid</text>
<text x="457" y="153.5" font-size="5.8" fill="#4d7ac8" font-weight="bold" text-anchor="start" textLength="33.7" lengthAdjust="spacingAndGlyphs" >Succinic acid</text>
<text x="491.9" y="154.1" font-size="5.8" fill="#4d7ac8" font-weight="bold" text-anchor="start" textLength="26.0" lengthAdjust="spacingAndGlyphs" >Histamine</text>
<text x="520.4" y="152.5" font-size="5.8" fill="#4d7ac8" font-weight="bold" text-anchor="start" textLength="26.0" lengthAdjust="spacingAndGlyphs" >Piperidine</text>
<text x="548.4" y="158.1" font-size="5.8" fill="#4d7ac8" font-weight="bold" text-anchor="start" textLength="82.2" lengthAdjust="spacingAndGlyphs" >4-(β-Acetylaminoethyl)imidazole</text>
<text x="367.8" y="166.4" font-size="5.8" fill="#4d7ac8" font-weight="bold" text-anchor="start" textLength="60.2" lengthAdjust="spacingAndGlyphs" >3-Phenylpropionic acid</text>
<text x="428.7" y="166.4" font-size="5.8" fill="#4d7ac8" font-weight="bold" text-anchor="start" textLength="53.3" lengthAdjust="spacingAndGlyphs" >3-Aminoisobutyric acid</text>
<text x="491" y="163.9" font-size="5.8" fill="#4d7ac8" font-weight="bold" text-anchor="start" textLength="32.8" lengthAdjust="spacingAndGlyphs" >Pipecolic acid</text>
<text x="526" y="166.4" font-size="5.8" fill="#4d7ac8" font-weight="bold" text-anchor="start" textLength="54" lengthAdjust="spacingAndGlyphs" >2-Hydroxyglutaric acid</text>
<text x="494.4" y="172.29999999999998" font-size="5.8" fill="#4d7ac8" font-weight="bold" text-anchor="start" textLength="16.6" lengthAdjust="spacingAndGlyphs" >Inosine</text>
<text x="517" y="174.0" font-size="5.8" fill="#4d7ac8" font-weight="bold" text-anchor="start" textLength="27" lengthAdjust="spacingAndGlyphs" >Pyridoxine</text>
<text x="453.8" y="176.1" font-size="5.8" fill="#4d7ac8" font-weight="bold" text-anchor="start" textLength="29.4" lengthAdjust="spacingAndGlyphs" >trans-Zeatin</text>
<text x="486" y="180.7" font-size="5.8" fill="#4d7ac8" font-weight="bold" text-anchor="start" textLength="29" lengthAdjust="spacingAndGlyphs" >Xanthosine</text>
<text x="516" y="182.7" font-size="5.8" fill="#4d7ac8" font-weight="bold" text-anchor="start" textLength="19.5" lengthAdjust="spacingAndGlyphs" >XC0015</text>
<text x="393.4" y="186.1" font-size="5.8" fill="#4d7ac8" font-weight="bold" text-anchor="start" textLength="58.6" lengthAdjust="spacingAndGlyphs" >Imidazole-4-acetic acid</text>
<text x="453" y="189.7" font-size="5.8" fill="#4d7ac8" font-weight="bold" text-anchor="start" textLength="47" lengthAdjust="spacingAndGlyphs" >1-Methyladenosine</text>
<text x="434.5" y="198.1" font-size="5.8" fill="#4d7ac8" font-weight="bold" text-anchor="start" textLength="34.5" lengthAdjust="spacingAndGlyphs" >Threonic acid</text>
<text x="501" y="195.5" font-size="5.8" fill="#4d7ac8" font-weight="bold" text-anchor="start" textLength="12.7" lengthAdjust="spacingAndGlyphs" >β-Ala</text>
<text x="577" y="21.400000000000002" font-size="5.8" fill="#ad1018" font-weight="bold" text-anchor="start" textLength="10" lengthAdjust="spacingAndGlyphs" >Phe</text>
<text x="586" y="67.1" font-size="5.8" fill="#ad1018" font-weight="bold" text-anchor="start" textLength="10" lengthAdjust="spacingAndGlyphs" >Leu</text>
<text x="586" y="96.1" font-size="5.8" fill="#ad1018" font-weight="bold" text-anchor="start" textLength="19" lengthAdjust="spacingAndGlyphs" >His-Glu</text>
<text x="627.6" y="91.5" font-size="5.8" fill="#ad1018" font-weight="bold" text-anchor="start" textLength="12.4" lengthAdjust="spacingAndGlyphs" >CMP</text>
<text x="574.4" y="110.8" font-size="5.8" fill="#ad1018" font-weight="bold" text-anchor="start" textLength="9.2" lengthAdjust="spacingAndGlyphs" >Trp</text>
<text x="606.3" y="114.1" font-size="5.8" fill="#ad1018" font-weight="bold" text-anchor="start" textLength="65.7" lengthAdjust="spacingAndGlyphs" >5-Methyl-2'-deoxycytidine</text>
<text x="602" y="128.6" font-size="5.8" fill="#ad1018" font-weight="bold" text-anchor="start" textLength="88.6" lengthAdjust="spacingAndGlyphs" >N-Acetylglucosamine 1-phosphate</text>
<text x="692" y="138.1" font-size="5.8" fill="#ad1018" font-weight="bold" text-anchor="start" textLength="10" lengthAdjust="spacingAndGlyphs" >Asn</text>
<text x="578.6" y="132.0" font-size="5.8" fill="#ad1018" font-weight="bold" text-anchor="start" textLength="7.4" lengthAdjust="spacingAndGlyphs" >Tyr</text>
<text x="598" y="146.6" font-size="5.8" fill="#ad1018" font-weight="bold" text-anchor="start" textLength="19" lengthAdjust="spacingAndGlyphs" >Tyr-Glu</text>
<text x="628" y="163.1" font-size="5.8" fill="#ad1018" font-weight="bold" text-anchor="start" textLength="55" lengthAdjust="spacingAndGlyphs" >Glucose 1-phosphate</text>
<text x="573.6" y="177.29999999999998" font-size="5.8" fill="#ad1018" font-weight="bold" text-anchor="start" textLength="8.4" lengthAdjust="spacingAndGlyphs" >Gln</text>
<text x="573.6" y="186.1" font-size="5.8" fill="#ad1018" font-weight="bold" text-anchor="start" textLength="8.4" lengthAdjust="spacingAndGlyphs" >Met</text>
<text x="592.9" y="183.5" font-size="5.8" fill="#ad1018" font-weight="bold" text-anchor="start" textLength="56.1" lengthAdjust="spacingAndGlyphs" >N,N-Dimethylhistidine</text>
<text x="598" y="194.1" font-size="5.8" fill="#ad1018" font-weight="bold" text-anchor="start" textLength="9" lengthAdjust="spacingAndGlyphs" >Arg</text>
<path d="M366.3 3.4 H718.9 V261.2" stroke="#3a3a3a" stroke-width="1.3" fill="none"/>
<path d="M366.3 3.4 V261.2 H718.9" stroke="#111" stroke-width="1.4" fill="none"/>
<path d="M364.8 249.6 H366.3" stroke="#111" stroke-width="1"/>
<text x="364.5" y="252.5" font-size="8.4" fill="#222" font-weight="normal" text-anchor="end" stroke="#222" stroke-width="0.12">0</text>
<path d="M364.8 204.5 H366.3" stroke="#111" stroke-width="1"/>
<text x="364.5" y="207.39000000000001" font-size="8.4" fill="#222" font-weight="normal" text-anchor="end" stroke="#222" stroke-width="0.12">1</text>
<path d="M364.8 159.4 H366.3" stroke="#111" stroke-width="1"/>
<text x="364.5" y="162.28" font-size="8.4" fill="#222" font-weight="normal" text-anchor="end" stroke="#222" stroke-width="0.12">2</text>
<path d="M364.8 114.3 H366.3" stroke="#111" stroke-width="1"/>
<text x="364.5" y="117.17000000000002" font-size="8.4" fill="#222" font-weight="normal" text-anchor="end" stroke="#222" stroke-width="0.12">3</text>
<path d="M364.8 69.2 H366.3" stroke="#111" stroke-width="1"/>
<text x="364.5" y="72.06" font-size="8.4" fill="#222" font-weight="normal" text-anchor="end" stroke="#222" stroke-width="0.12">4</text>
<path d="M364.8 24.0 H366.3" stroke="#111" stroke-width="1"/>
<text x="364.5" y="26.94999999999998" font-size="8.4" fill="#222" font-weight="normal" text-anchor="end" stroke="#222" stroke-width="0.12">5</text>
<path d="M377.3 261.2 V262.7" stroke="#111" stroke-width="1"/>
<text x="377.63" y="271.7" font-size="8" fill="#222" font-weight="normal" text-anchor="middle" stroke="#222" stroke-width="0.12">-6</text>
<path d="M465.7 261.2 V262.7" stroke="#111" stroke-width="1"/>
<text x="466.04" y="271.7" font-size="8" fill="#222" font-weight="normal" text-anchor="middle" stroke="#222" stroke-width="0.12">-3</text>
<path d="M554.1 261.2 V262.7" stroke="#111" stroke-width="1"/>
<text x="554.4499999999999" y="271.7" font-size="8" fill="#222" font-weight="normal" text-anchor="middle" stroke="#222" stroke-width="0.12">0</text>
<path d="M642.6 261.2 V262.7" stroke="#111" stroke-width="1"/>
<text x="642.8599999999999" y="271.7" font-size="8" fill="#222" font-weight="normal" text-anchor="middle" stroke="#222" stroke-width="0.12">3</text>
<text x="543" y="287.4" font-size="9.2" fill="#111" font-weight="bold" text-anchor="middle" textLength="152" lengthAdjust="spacingAndGlyphs" >log2(FC): tacrolimus 7 days/control</text>
<text transform="translate(356.2,118.5) rotate(-90)" font-size="9.6" font-weight="bold" text-anchor="middle" fill="#111" textLength="43.5" lengthAdjust="spacingAndGlyphs">-log10(p)</text>
</svg></body></html>
